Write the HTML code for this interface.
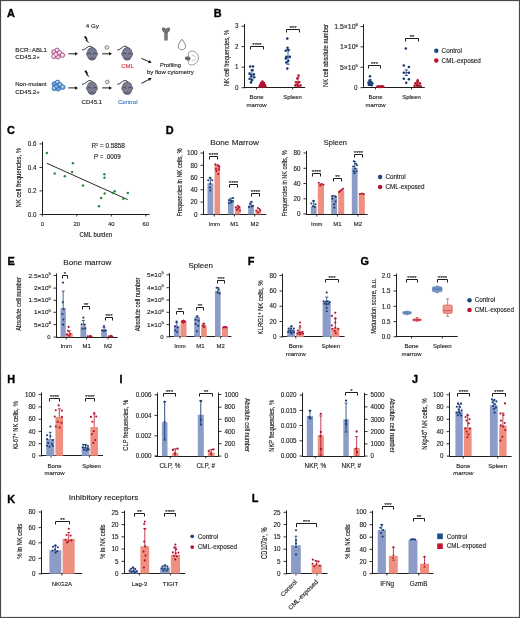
<!DOCTYPE html><html><head><meta charset="utf-8"><style>html,body{margin:0;padding:0;background:#fff;width:520px;height:618px;overflow:hidden}svg{display:block;will-change:transform}text{font-family:"Liberation Sans",sans-serif}</style></head><body><svg width="520" height="618" viewBox="0 0 520 618" font-family='"Liberation Sans", sans-serif' fill="#1a1a1a">
<rect x="0" y="0" width="520" height="618" fill="#fff"/>
<text x="7.00" y="16.60" font-size="10.9" fill="#000" font-weight="bold" stroke="#000" stroke-width="0.35">A</text>
<text x="15.30" y="51.90" font-size="6.2" textLength="31.60" lengthAdjust="spacingAndGlyphs" stroke="#1a1a1a" stroke-width="0.12">BCR::ABL1</text>
<text x="15.30" y="59.40" font-size="6.2" textLength="24.60" lengthAdjust="spacingAndGlyphs" stroke="#1a1a1a" stroke-width="0.12">CD45.2+</text>
<text x="15.30" y="86.20" font-size="6.2" textLength="31.20" lengthAdjust="spacingAndGlyphs" stroke="#1a1a1a" stroke-width="0.12">Non-mutant</text>
<text x="15.30" y="93.80" font-size="6.2" textLength="24.60" lengthAdjust="spacingAndGlyphs" stroke="#1a1a1a" stroke-width="0.12">CD45.2+</text>
<circle cx="57.10" cy="50.40" r="2.25" fill="#ecd0e2" stroke="#9c2a6a" stroke-width="0.75"/>
<circle cx="53.90" cy="52.00" r="2.25" fill="#ecd0e2" stroke="#9c2a6a" stroke-width="0.75"/>
<circle cx="59.60" cy="52.90" r="2.25" fill="#ecd0e2" stroke="#9c2a6a" stroke-width="0.75"/>
<circle cx="62.40" cy="55.20" r="2.25" fill="#ecd0e2" stroke="#9c2a6a" stroke-width="0.75"/>
<circle cx="53.90" cy="56.40" r="2.25" fill="#ecd0e2" stroke="#9c2a6a" stroke-width="0.75"/>
<circle cx="57.90" cy="56.80" r="2.25" fill="#ecd0e2" stroke="#9c2a6a" stroke-width="0.75"/>
<circle cx="55.90" cy="54.20" r="2.25" fill="#ecd0e2" stroke="#9c2a6a" stroke-width="0.75"/>
<circle cx="56.70" cy="49.90" r="0.9" fill="#ffffff"/>
<circle cx="59.20" cy="52.40" r="0.9" fill="#ffffff"/>
<circle cx="62.00" cy="54.70" r="0.9" fill="#ffffff"/>
<circle cx="53.50" cy="55.90" r="0.9" fill="#ffffff"/>
<circle cx="57.50" cy="82.40" r="2.25" fill="#74a8dd" stroke="#1f5ea8" stroke-width="0.75"/>
<circle cx="54.30" cy="84.00" r="2.25" fill="#74a8dd" stroke="#1f5ea8" stroke-width="0.75"/>
<circle cx="60.00" cy="84.90" r="2.25" fill="#74a8dd" stroke="#1f5ea8" stroke-width="0.75"/>
<circle cx="62.80" cy="87.20" r="2.25" fill="#74a8dd" stroke="#1f5ea8" stroke-width="0.75"/>
<circle cx="54.30" cy="88.40" r="2.25" fill="#74a8dd" stroke="#1f5ea8" stroke-width="0.75"/>
<circle cx="58.30" cy="88.80" r="2.25" fill="#74a8dd" stroke="#1f5ea8" stroke-width="0.75"/>
<circle cx="56.30" cy="86.20" r="2.25" fill="#74a8dd" stroke="#1f5ea8" stroke-width="0.75"/>
<circle cx="57.10" cy="81.90" r="0.9" fill="#dbe9f7"/>
<circle cx="59.60" cy="84.40" r="0.9" fill="#dbe9f7"/>
<circle cx="62.40" cy="86.70" r="0.9" fill="#dbe9f7"/>
<circle cx="53.90" cy="87.90" r="0.9" fill="#dbe9f7"/>
<line x1="68.30" y1="53.80" x2="75.00" y2="53.80" stroke="#111" stroke-width="0.95"/>
<path d="M78.00 53.80L75.00 55.55L75.00 52.05Z" fill="#111"/>
<line x1="68.30" y1="87.90" x2="75.00" y2="87.90" stroke="#111" stroke-width="0.95"/>
<path d="M78.00 87.90L75.00 89.65L75.00 86.15Z" fill="#111"/>
<line x1="102.20" y1="53.80" x2="109.00" y2="53.80" stroke="#111" stroke-width="0.95"/>
<path d="M112.00 53.80L109.00 55.55L109.00 52.05Z" fill="#111"/>
<line x1="102.20" y1="87.90" x2="109.00" y2="87.90" stroke="#111" stroke-width="0.95"/>
<path d="M112.00 87.90L109.00 89.65L109.00 86.15Z" fill="#111"/>
<line x1="141.40" y1="58.40" x2="148.85" y2="61.61" stroke="#111" stroke-width="0.95"/>
<path d="M151.60 62.80L148.15 63.22L149.54 60.00Z" fill="#111"/>
<line x1="141.40" y1="83.40" x2="148.94" y2="79.48" stroke="#111" stroke-width="0.95"/>
<path d="M151.60 78.10L149.74 81.04L148.13 77.93Z" fill="#111"/>
<path d="M92.00 47.60C94.60 47.60 96.20 49.30 96.60 51.90C97.60 52.70 98.00 55.30 96.40 56.10C96.00 58.10 95.00 60.20 92.00 60.20C89.00 60.20 88.00 58.10 87.60 56.10C86.00 55.30 86.40 52.70 87.40 51.90C87.80 49.30 89.40 47.60 92.00 47.60Z" fill="#7a7e90" stroke="#34364a" stroke-width="0.6"/>
<path d="M87.60 53.70Q89.40 52.40 91.00 53.90M96.40 53.70Q94.60 52.40 93.00 53.90" fill="none" stroke="#34364a" stroke-width="0.7"/>
<path d="M89.60 58.80Q92.00 57.50 94.40 58.80" fill="none" stroke="#34364a" stroke-width="0.6"/>
<path d="M92.60 47.70C91.80 45.90 89.00 45.70 87.20 47.30S84.00 49.90 82.00 49.90" fill="none" stroke="#2a2a30" stroke-width="0.95"/>
<path d="M127.20 47.60C129.80 47.60 131.40 49.30 131.80 51.90C132.80 52.70 133.20 55.30 131.60 56.10C131.20 58.10 130.20 60.20 127.20 60.20C124.20 60.20 123.20 58.10 122.80 56.10C121.20 55.30 121.60 52.70 122.60 51.90C123.00 49.30 124.60 47.60 127.20 47.60Z" fill="#7a7e90" stroke="#34364a" stroke-width="0.6"/>
<path d="M122.80 53.70Q124.60 52.40 126.20 53.90M131.60 53.70Q129.80 52.40 128.20 53.90" fill="none" stroke="#34364a" stroke-width="0.7"/>
<path d="M124.80 58.80Q127.20 57.50 129.60 58.80" fill="none" stroke="#34364a" stroke-width="0.6"/>
<path d="M127.80 47.70C127.00 45.90 124.20 45.70 122.40 47.30S119.20 49.90 117.20 49.90" fill="none" stroke="#2a2a30" stroke-width="0.95"/>
<path d="M92.00 81.90C94.60 81.90 96.20 83.60 96.60 86.20C97.60 87.00 98.00 89.60 96.40 90.40C96.00 92.40 95.00 94.50 92.00 94.50C89.00 94.50 88.00 92.40 87.60 90.40C86.00 89.60 86.40 87.00 87.40 86.20C87.80 83.60 89.40 81.90 92.00 81.90Z" fill="#7a7e90" stroke="#34364a" stroke-width="0.6"/>
<path d="M87.60 88.00Q89.40 86.70 91.00 88.20M96.40 88.00Q94.60 86.70 93.00 88.20" fill="none" stroke="#34364a" stroke-width="0.7"/>
<path d="M89.60 93.10Q92.00 91.80 94.40 93.10" fill="none" stroke="#34364a" stroke-width="0.6"/>
<path d="M92.60 82.00C91.80 80.20 89.00 80.00 87.20 81.60S84.00 84.20 82.00 84.20" fill="none" stroke="#2a2a30" stroke-width="0.95"/>
<path d="M127.20 81.90C129.80 81.90 131.40 83.60 131.80 86.20C132.80 87.00 133.20 89.60 131.60 90.40C131.20 92.40 130.20 94.50 127.20 94.50C124.20 94.50 123.20 92.40 122.80 90.40C121.20 89.60 121.60 87.00 122.60 86.20C123.00 83.60 124.60 81.90 127.20 81.90Z" fill="#7a7e90" stroke="#34364a" stroke-width="0.6"/>
<path d="M122.80 88.00Q124.60 86.70 126.20 88.20M131.60 88.00Q129.80 86.70 128.20 88.20" fill="none" stroke="#34364a" stroke-width="0.7"/>
<path d="M124.80 93.10Q127.20 91.80 129.60 93.10" fill="none" stroke="#34364a" stroke-width="0.6"/>
<path d="M127.80 82.00C127.00 80.20 124.20 80.00 122.40 81.60S119.20 84.20 117.20 84.20" fill="none" stroke="#2a2a30" stroke-width="0.95"/>
<path d="M83.90 36.80L85.80 35.90L87.70 39.30L86.90 39.70L89.50 43.20L85.50 40.50L86.30 40.10Z" fill="#111"/>
<path d="M84.30 71.10L86.20 70.20L88.10 73.60L87.30 74.00L89.90 77.50L85.90 74.80L86.70 74.40Z" fill="#111"/>
<circle cx="106.80" cy="47.40" r="1.85" fill="none" stroke="#333" stroke-width="0.6"/>
<circle cx="106.80" cy="47.40" r="0.45" fill="#333"/>
<circle cx="107.30" cy="82.00" r="1.85" fill="none" stroke="#333" stroke-width="0.6"/>
<circle cx="107.30" cy="82.00" r="0.45" fill="#333"/>
<text x="85.80" y="28.30" font-size="6.2" textLength="13.00" lengthAdjust="spacingAndGlyphs" stroke="#1a1a1a" stroke-width="0.12">4 Gy</text>
<text x="121.20" y="68.30" font-size="6.2" fill="#d9303c" textLength="12.60" lengthAdjust="spacingAndGlyphs" stroke="#d9303c" stroke-width="0.12">CML</text>
<text x="81.60" y="103.70" font-size="6.2" textLength="20.40" lengthAdjust="spacingAndGlyphs" stroke="#1a1a1a" stroke-width="0.12">CD45.1</text>
<text x="117.90" y="103.70" font-size="6.2" fill="#3b74b6" textLength="19.60" lengthAdjust="spacingAndGlyphs" stroke="#3b74b6" stroke-width="0.12">Control</text>
<text x="160.00" y="66.60" font-size="6.1" textLength="21.00" lengthAdjust="spacingAndGlyphs" stroke="#1a1a1a" stroke-width="0.12">Profiling</text>
<text x="147.00" y="74.20" font-size="6.1" textLength="46.80" lengthAdjust="spacingAndGlyphs" stroke="#1a1a1a" stroke-width="0.12">by flow cytometry</text>
<path d="M161.9 29.2C161.4 27.0 164.6 26.8 165.6 28.6L166.0 29.3L166.4 28.6C167.4 26.8 170.6 27.0 170.1 29.2C169.8 30.9 168.6 32.2 167.7 32.8L167.7 40.6L164.3 40.6L164.3 32.8C163.4 32.2 162.2 30.9 161.9 29.2Z" fill="#6a6a6a"/>
<path d="M163.4 28.8L165.3 31.3M168.6 28.8L166.7 31.3M166.0 33.0V39.8" fill="none" stroke="#a9a9a9" stroke-width="0.45"/>
<path d="M181.9 39.2C180.4 41.6 178.3 43.6 178.3 46.3C178.3 48.4 179.9 49.8 181.9 49.8C183.9 49.8 185.5 48.4 185.5 46.3C185.5 43.6 183.4 41.6 181.9 39.2Z" fill="#fff" stroke="#555" stroke-width="0.7"/>
<path d="M190.8 51.2C194.8 50.6 198.6 53.6 198.4 58.0C198.2 62.4 194.6 65.3 190.8 64.9C188.6 64.7 187.6 62.8 188.6 61.4C186.6 60.8 186.4 56.6 188.6 56.0C187.6 53.8 188.6 51.5 190.8 51.2Z" fill="#fff" stroke="#666" stroke-width="0.65"/>
<path d="M192.2 55.2Q195.2 55.6 195.8 57.6M192.2 60.8Q195.2 60.6 195.8 58.6" fill="none" stroke="#888" stroke-width="0.5"/>
<path d="M184.8 58.0C185.0 56.6 187.2 56.2 189.6 56.8L190.6 58.6L189.6 60.4C187.4 60.8 184.6 60.0 184.8 58.0Z" fill="#666"/>
<text x="213.80" y="16.60" font-size="10.9" fill="#000" font-weight="bold" stroke="#000" stroke-width="0.35">B</text>
<line x1="244.50" y1="23.90" x2="244.50" y2="88.20" stroke="#1e1e1e" stroke-width="1.0"/>
<line x1="241.50" y1="87.70" x2="244.50" y2="87.70" stroke="#1e1e1e" stroke-width="0.9"/>
<text x="238.60" y="89.91" font-size="6.3" text-anchor="end" stroke="#1a1a1a" stroke-width="0.12">0</text>
<line x1="241.50" y1="67.20" x2="244.50" y2="67.20" stroke="#1e1e1e" stroke-width="0.9"/>
<text x="238.60" y="69.41" font-size="6.3" text-anchor="end" stroke="#1a1a1a" stroke-width="0.12">1</text>
<line x1="241.50" y1="46.60" x2="244.50" y2="46.60" stroke="#1e1e1e" stroke-width="0.9"/>
<text x="238.60" y="48.80" font-size="6.3" text-anchor="end" stroke="#1a1a1a" stroke-width="0.12">2</text>
<line x1="241.50" y1="26.20" x2="244.50" y2="26.20" stroke="#1e1e1e" stroke-width="0.9"/>
<text x="238.60" y="28.40" font-size="6.3" text-anchor="end" stroke="#1a1a1a" stroke-width="0.12">3</text>
<line x1="244.00" y1="87.50" x2="305.20" y2="87.50" stroke="#1e1e1e" stroke-width="1.0"/>
<line x1="256.60" y1="87.50" x2="256.60" y2="89.50" stroke="#1e1e1e" stroke-width="0.9"/>
<line x1="292.60" y1="87.50" x2="292.60" y2="89.50" stroke="#1e1e1e" stroke-width="0.9"/>
<text x="228.90" y="58.00" font-size="7.6" text-anchor="middle" textLength="56.20" lengthAdjust="spacingAndGlyphs" transform="rotate(-90 228.90 58.00)" stroke="#1a1a1a" stroke-width="0.15">NK cell frequencies, %</text>
<line x1="248.80" y1="74.60" x2="254.80" y2="74.60" stroke="#163a72" stroke-width="0.8"/>
<line x1="251.80" y1="69.80" x2="251.80" y2="79.40" stroke="#163a72" stroke-width="0.8"/>
<line x1="250.15" y1="69.80" x2="253.45" y2="69.80" stroke="#163a72" stroke-width="0.8"/>
<line x1="250.15" y1="79.40" x2="253.45" y2="79.40" stroke="#163a72" stroke-width="0.8"/>
<circle cx="250.20" cy="66.50" r="1.28" fill="#163a72"/>
<circle cx="253.00" cy="66.50" r="1.28" fill="#163a72"/>
<circle cx="252.40" cy="70.30" r="1.28" fill="#163a72"/>
<circle cx="249.60" cy="73.60" r="1.28" fill="#163a72"/>
<circle cx="253.90" cy="74.40" r="1.28" fill="#163a72"/>
<circle cx="251.20" cy="76.20" r="1.28" fill="#163a72"/>
<circle cx="254.20" cy="77.30" r="1.28" fill="#163a72"/>
<circle cx="249.60" cy="78.70" r="1.28" fill="#163a72"/>
<circle cx="252.00" cy="80.30" r="1.28" fill="#163a72"/>
<circle cx="251.00" cy="82.40" r="1.28" fill="#163a72"/>
<line x1="260.20" y1="85.00" x2="265.40" y2="85.00" stroke="#b0122e" stroke-width="0.8"/>
<line x1="262.80" y1="82.60" x2="262.80" y2="87.20" stroke="#b0122e" stroke-width="0.8"/>
<line x1="261.37" y1="82.60" x2="264.23" y2="82.60" stroke="#b0122e" stroke-width="0.8"/>
<line x1="261.37" y1="87.20" x2="264.23" y2="87.20" stroke="#b0122e" stroke-width="0.8"/>
<circle cx="262.50" cy="81.60" r="1.28" fill="#b0122e"/>
<circle cx="261.00" cy="83.00" r="1.28" fill="#b0122e"/>
<circle cx="264.00" cy="83.00" r="1.28" fill="#b0122e"/>
<circle cx="262.60" cy="84.20" r="1.28" fill="#b0122e"/>
<circle cx="260.00" cy="85.00" r="1.28" fill="#b0122e"/>
<circle cx="265.00" cy="85.00" r="1.28" fill="#b0122e"/>
<circle cx="261.80" cy="86.00" r="1.28" fill="#b0122e"/>
<circle cx="263.60" cy="86.00" r="1.28" fill="#b0122e"/>
<circle cx="259.60" cy="86.80" r="1.28" fill="#b0122e"/>
<circle cx="265.60" cy="86.80" r="1.28" fill="#b0122e"/>
<circle cx="262.70" cy="86.90" r="1.28" fill="#b0122e"/>
<line x1="285.00" y1="56.90" x2="291.00" y2="56.90" stroke="#163a72" stroke-width="0.8"/>
<line x1="288.00" y1="49.50" x2="288.00" y2="64.30" stroke="#163a72" stroke-width="0.8"/>
<line x1="286.35" y1="49.50" x2="289.65" y2="49.50" stroke="#163a72" stroke-width="0.8"/>
<line x1="286.35" y1="64.30" x2="289.65" y2="64.30" stroke="#163a72" stroke-width="0.8"/>
<circle cx="287.30" cy="38.60" r="1.28" fill="#163a72"/>
<circle cx="287.50" cy="47.70" r="1.28" fill="#163a72"/>
<circle cx="285.70" cy="50.80" r="1.28" fill="#163a72"/>
<circle cx="288.60" cy="50.10" r="1.28" fill="#163a72"/>
<circle cx="286.40" cy="56.90" r="1.28" fill="#163a72"/>
<circle cx="289.80" cy="56.90" r="1.28" fill="#163a72"/>
<circle cx="285.80" cy="58.60" r="1.28" fill="#163a72"/>
<circle cx="288.30" cy="60.80" r="1.28" fill="#163a72"/>
<circle cx="286.40" cy="62.40" r="1.28" fill="#163a72"/>
<circle cx="287.30" cy="68.60" r="1.28" fill="#163a72"/>
<line x1="295.40" y1="82.20" x2="300.60" y2="82.20" stroke="#b0122e" stroke-width="0.8"/>
<line x1="298.00" y1="77.80" x2="298.00" y2="86.50" stroke="#b0122e" stroke-width="0.8"/>
<line x1="296.57" y1="77.80" x2="299.43" y2="77.80" stroke="#b0122e" stroke-width="0.8"/>
<line x1="296.57" y1="86.50" x2="299.43" y2="86.50" stroke="#b0122e" stroke-width="0.8"/>
<circle cx="298.50" cy="75.60" r="1.28" fill="#b0122e"/>
<circle cx="297.30" cy="78.50" r="1.28" fill="#b0122e"/>
<circle cx="296.00" cy="82.20" r="1.28" fill="#b0122e"/>
<circle cx="299.00" cy="82.20" r="1.28" fill="#b0122e"/>
<circle cx="297.30" cy="84.60" r="1.28" fill="#b0122e"/>
<circle cx="300.50" cy="85.40" r="1.28" fill="#b0122e"/>
<circle cx="295.40" cy="85.40" r="1.28" fill="#b0122e"/>
<circle cx="298.20" cy="86.60" r="1.28" fill="#b0122e"/>
<path d="M250.50 49.50V46.50H263.50V49.50" fill="none" stroke="#1e1e1e" stroke-width="1.0"/>
<text x="257.00" y="46.64" font-size="6.0" text-anchor="middle" fill="#111" stroke="#111" stroke-width="0.1">****</text>
<path d="M286.50 32.50V29.50H299.50V32.50" fill="none" stroke="#1e1e1e" stroke-width="1.0"/>
<text x="293.00" y="29.64" font-size="6.0" text-anchor="middle" fill="#111" stroke="#111" stroke-width="0.1">***</text>
<text x="256.60" y="99.10" font-size="6.0" text-anchor="middle" stroke="#1a1a1a" stroke-width="0.12">Bone</text>
<text x="256.60" y="106.80" font-size="6.0" text-anchor="middle" stroke="#1a1a1a" stroke-width="0.12">marrow</text>
<text x="292.60" y="99.10" font-size="6.0" text-anchor="middle" stroke="#1a1a1a" stroke-width="0.12">Spleen</text>
<line x1="363.50" y1="24.20" x2="363.50" y2="88.10" stroke="#1e1e1e" stroke-width="1.0"/>
<line x1="360.50" y1="87.60" x2="363.50" y2="87.60" stroke="#1e1e1e" stroke-width="0.9"/>
<text x="357.60" y="89.80" font-size="6.3" text-anchor="end" stroke="#1a1a1a" stroke-width="0.12">0</text>
<line x1="360.50" y1="67.30" x2="363.50" y2="67.30" stroke="#1e1e1e" stroke-width="0.9"/>
<text x="358.00" y="69.50" font-size="6.3" text-anchor="end" textLength="18.06" lengthAdjust="spacingAndGlyphs" stroke="#1a1a1a" stroke-width="0.12">5×10<tspan font-size="4.0" dy="-2.5">5</tspan></text>
<line x1="360.50" y1="46.80" x2="363.50" y2="46.80" stroke="#1e1e1e" stroke-width="0.9"/>
<text x="358.00" y="49.00" font-size="6.3" text-anchor="end" textLength="18.06" lengthAdjust="spacingAndGlyphs" stroke="#1a1a1a" stroke-width="0.12">1×10<tspan font-size="4.0" dy="-2.5">6</tspan></text>
<line x1="360.50" y1="26.50" x2="363.50" y2="26.50" stroke="#1e1e1e" stroke-width="0.9"/>
<text x="358.00" y="28.70" font-size="6.3" text-anchor="end" textLength="23.83" lengthAdjust="spacingAndGlyphs" stroke="#1a1a1a" stroke-width="0.12">1.5×10<tspan font-size="4.0" dy="-2.5">6</tspan></text>
<line x1="363.00" y1="87.50" x2="424.80" y2="87.50" stroke="#1e1e1e" stroke-width="1.0"/>
<line x1="375.40" y1="87.50" x2="375.40" y2="89.50" stroke="#1e1e1e" stroke-width="0.9"/>
<line x1="411.50" y1="87.50" x2="411.50" y2="89.50" stroke="#1e1e1e" stroke-width="0.9"/>
<text x="327.90" y="55.45" font-size="7.6" text-anchor="middle" textLength="63.00" lengthAdjust="spacingAndGlyphs" transform="rotate(-90 327.90 55.45)" stroke="#1a1a1a" stroke-width="0.15">NK cell absolute number</text>
<line x1="367.60" y1="82.40" x2="372.80" y2="82.40" stroke="#163a72" stroke-width="0.8"/>
<line x1="370.20" y1="79.40" x2="370.20" y2="85.40" stroke="#163a72" stroke-width="0.8"/>
<line x1="368.77" y1="79.40" x2="371.63" y2="79.40" stroke="#163a72" stroke-width="0.8"/>
<line x1="368.77" y1="85.40" x2="371.63" y2="85.40" stroke="#163a72" stroke-width="0.8"/>
<circle cx="370.00" cy="76.20" r="1.28" fill="#163a72"/>
<circle cx="369.50" cy="80.80" r="1.28" fill="#163a72"/>
<circle cx="371.20" cy="81.90" r="1.28" fill="#163a72"/>
<circle cx="368.50" cy="82.70" r="1.28" fill="#163a72"/>
<circle cx="372.40" cy="83.50" r="1.28" fill="#163a72"/>
<circle cx="370.00" cy="84.20" r="1.28" fill="#163a72"/>
<circle cx="368.80" cy="84.80" r="1.28" fill="#163a72"/>
<circle cx="371.60" cy="85.30" r="1.28" fill="#163a72"/>
<circle cx="377.50" cy="86.60" r="1.28" fill="#b0122e"/>
<circle cx="379.50" cy="86.40" r="1.28" fill="#b0122e"/>
<circle cx="381.50" cy="86.60" r="1.28" fill="#b0122e"/>
<circle cx="383.30" cy="86.80" r="1.28" fill="#b0122e"/>
<circle cx="378.60" cy="87.00" r="1.28" fill="#b0122e"/>
<circle cx="380.70" cy="87.00" r="1.28" fill="#b0122e"/>
<circle cx="382.40" cy="86.20" r="1.28" fill="#b0122e"/>
<line x1="376.50" y1="86.80" x2="384.00" y2="86.80" stroke="#b0122e" stroke-width="0.8"/>
<line x1="403.10" y1="72.70" x2="409.50" y2="72.70" stroke="#163a72" stroke-width="0.8"/>
<line x1="406.30" y1="69.90" x2="406.30" y2="75.50" stroke="#163a72" stroke-width="0.8"/>
<line x1="404.54" y1="69.90" x2="408.06" y2="69.90" stroke="#163a72" stroke-width="0.8"/>
<line x1="404.54" y1="75.50" x2="408.06" y2="75.50" stroke="#163a72" stroke-width="0.8"/>
<circle cx="405.80" cy="48.50" r="1.28" fill="#163a72"/>
<circle cx="403.80" cy="65.50" r="1.28" fill="#163a72"/>
<circle cx="408.90" cy="67.00" r="1.28" fill="#163a72"/>
<circle cx="403.80" cy="72.70" r="1.28" fill="#163a72"/>
<circle cx="408.90" cy="72.70" r="1.28" fill="#163a72"/>
<circle cx="403.80" cy="78.80" r="1.28" fill="#163a72"/>
<circle cx="408.90" cy="79.30" r="1.28" fill="#163a72"/>
<circle cx="406.20" cy="82.70" r="1.28" fill="#163a72"/>
<line x1="414.80" y1="84.00" x2="420.00" y2="84.00" stroke="#b0122e" stroke-width="0.8"/>
<line x1="417.40" y1="81.50" x2="417.40" y2="86.50" stroke="#b0122e" stroke-width="0.8"/>
<line x1="415.97" y1="81.50" x2="418.83" y2="81.50" stroke="#b0122e" stroke-width="0.8"/>
<line x1="415.97" y1="86.50" x2="418.83" y2="86.50" stroke="#b0122e" stroke-width="0.8"/>
<circle cx="417.70" cy="80.40" r="1.28" fill="#b0122e"/>
<circle cx="415.40" cy="83.40" r="1.28" fill="#b0122e"/>
<circle cx="420.00" cy="83.40" r="1.28" fill="#b0122e"/>
<circle cx="416.90" cy="85.00" r="1.28" fill="#b0122e"/>
<circle cx="418.60" cy="85.80" r="1.28" fill="#b0122e"/>
<circle cx="414.60" cy="86.00" r="1.28" fill="#b0122e"/>
<circle cx="420.60" cy="86.20" r="1.28" fill="#b0122e"/>
<circle cx="417.60" cy="82.00" r="1.28" fill="#b0122e"/>
<path d="M368.50 68.50V65.50H380.50V68.50" fill="none" stroke="#1e1e1e" stroke-width="1.0"/>
<text x="374.50" y="65.64" font-size="6.0" text-anchor="middle" fill="#111" stroke="#111" stroke-width="0.1">***</text>
<path d="M405.50 41.50V38.50H418.50V41.50" fill="none" stroke="#1e1e1e" stroke-width="1.0"/>
<text x="412.00" y="38.64" font-size="6.0" text-anchor="middle" fill="#111" stroke="#111" stroke-width="0.1">**</text>
<text x="375.60" y="99.40" font-size="6.0" text-anchor="middle" stroke="#1a1a1a" stroke-width="0.12">Bone</text>
<text x="375.60" y="107.00" font-size="6.0" text-anchor="middle" stroke="#1a1a1a" stroke-width="0.12">marrow</text>
<text x="411.50" y="99.40" font-size="6.0" text-anchor="middle" stroke="#1a1a1a" stroke-width="0.12">Spleen</text>
<circle cx="436.30" cy="50.70" r="2.25" fill="#1c4a80"/>
<circle cx="436.30" cy="60.60" r="2.25" fill="#b8142e"/>
<text x="441.60" y="52.97" font-size="6.3" stroke="#1a1a1a" stroke-width="0.12">Control</text>
<text x="441.60" y="62.87" font-size="6.3" stroke="#1a1a1a" stroke-width="0.12">CML-exposed</text>
<text x="6.90" y="133.80" font-size="10.9" fill="#000" font-weight="bold" stroke="#000" stroke-width="0.35">C</text>
<line x1="42.50" y1="141.60" x2="42.50" y2="214.90" stroke="#1e1e1e" stroke-width="1.0"/>
<line x1="39.50" y1="214.40" x2="42.50" y2="214.40" stroke="#1e1e1e" stroke-width="0.9"/>
<text x="36.60" y="216.61" font-size="6.3" text-anchor="end" stroke="#1a1a1a" stroke-width="0.12">0.0</text>
<line x1="39.50" y1="190.90" x2="42.50" y2="190.90" stroke="#1e1e1e" stroke-width="0.9"/>
<text x="36.60" y="193.11" font-size="6.3" text-anchor="end" stroke="#1a1a1a" stroke-width="0.12">0.2</text>
<line x1="39.50" y1="167.40" x2="42.50" y2="167.40" stroke="#1e1e1e" stroke-width="0.9"/>
<text x="36.60" y="169.61" font-size="6.3" text-anchor="end" stroke="#1a1a1a" stroke-width="0.12">0.4</text>
<line x1="39.50" y1="143.90" x2="42.50" y2="143.90" stroke="#1e1e1e" stroke-width="0.9"/>
<text x="36.60" y="146.11" font-size="6.3" text-anchor="end" stroke="#1a1a1a" stroke-width="0.12">0.6</text>
<line x1="42.00" y1="214.50" x2="149.60" y2="214.50" stroke="#1e1e1e" stroke-width="1.0"/>
<line x1="42.30" y1="214.50" x2="42.30" y2="216.50" stroke="#1e1e1e" stroke-width="0.9"/>
<line x1="76.80" y1="214.50" x2="76.80" y2="216.50" stroke="#1e1e1e" stroke-width="0.9"/>
<line x1="111.30" y1="214.50" x2="111.30" y2="216.50" stroke="#1e1e1e" stroke-width="0.9"/>
<line x1="145.80" y1="214.50" x2="145.80" y2="216.50" stroke="#1e1e1e" stroke-width="0.9"/>
<text x="42.30" y="225.90" font-size="5.8" text-anchor="middle" stroke="#1a1a1a" stroke-width="0.12">0</text>
<text x="76.80" y="225.90" font-size="5.8" text-anchor="middle" stroke="#1a1a1a" stroke-width="0.12">20</text>
<text x="111.30" y="225.90" font-size="5.8" text-anchor="middle" stroke="#1a1a1a" stroke-width="0.12">40</text>
<text x="145.80" y="225.90" font-size="5.8" text-anchor="middle" stroke="#1a1a1a" stroke-width="0.12">60</text>
<text x="21.20" y="177.70" font-size="7.6" text-anchor="middle" textLength="59.50" lengthAdjust="spacingAndGlyphs" transform="rotate(-90 21.20 177.70)" stroke="#1a1a1a" stroke-width="0.15">NK cell frequencies, %</text>
<text x="95.80" y="237.20" font-size="7.0" text-anchor="middle" textLength="32.40" lengthAdjust="spacingAndGlyphs" stroke="#1a1a1a" stroke-width="0.15">CML burden</text>
<line x1="46.90" y1="163.30" x2="127.70" y2="199.60" stroke="#1e1e1e" stroke-width="0.95"/>
<circle cx="46.90" cy="153.10" r="1.25" fill="#2f8c3b"/>
<circle cx="54.70" cy="173.60" r="1.25" fill="#2f8c3b"/>
<circle cx="64.80" cy="176.20" r="1.25" fill="#2f8c3b"/>
<circle cx="72.90" cy="163.20" r="1.25" fill="#2f8c3b"/>
<circle cx="72.10" cy="172.10" r="1.25" fill="#2f8c3b"/>
<circle cx="83.00" cy="185.40" r="1.25" fill="#2f8c3b"/>
<circle cx="98.90" cy="206.20" r="1.25" fill="#2f8c3b"/>
<circle cx="101.10" cy="197.90" r="1.25" fill="#2f8c3b"/>
<circle cx="104.30" cy="174.30" r="1.25" fill="#2f8c3b"/>
<circle cx="104.50" cy="177.80" r="1.25" fill="#2f8c3b"/>
<circle cx="104.70" cy="193.50" r="1.25" fill="#2f8c3b"/>
<circle cx="112.90" cy="193.10" r="1.25" fill="#2f8c3b"/>
<circle cx="114.70" cy="191.20" r="1.25" fill="#2f8c3b"/>
<circle cx="123.30" cy="198.70" r="1.25" fill="#2f8c3b"/>
<circle cx="127.80" cy="192.90" r="1.25" fill="#2f8c3b"/>
<text x="91.40" y="148.20" font-size="6.3" textLength="33.40" lengthAdjust="spacingAndGlyphs" stroke="#1a1a1a" stroke-width="0.12">R<tspan font-size="3.8" dy="-2.4">2</tspan><tspan dy="2.4"> = 0.5858</tspan></text>
<text x="93.80" y="158.80" font-size="6.3" textLength="27.00" lengthAdjust="spacingAndGlyphs" stroke="#1a1a1a" stroke-width="0.12"><tspan font-style="italic">P</tspan> = .0009</text>
<text x="165.80" y="133.80" font-size="10.9" fill="#000" font-weight="bold" stroke="#000" stroke-width="0.35">D</text>
<text x="234.60" y="145.10" font-size="8.0" text-anchor="middle" textLength="48.60" lengthAdjust="spacingAndGlyphs" stroke="#1a1a1a" stroke-width="0.12">Bone Marrow</text>
<line x1="203.50" y1="151.20" x2="203.50" y2="214.90" stroke="#1e1e1e" stroke-width="1.0"/>
<line x1="200.50" y1="214.40" x2="203.50" y2="214.40" stroke="#1e1e1e" stroke-width="0.9"/>
<text x="197.60" y="216.61" font-size="6.3" text-anchor="end" stroke="#1a1a1a" stroke-width="0.12">0</text>
<line x1="200.50" y1="202.10" x2="203.50" y2="202.10" stroke="#1e1e1e" stroke-width="0.9"/>
<text x="197.60" y="204.31" font-size="6.3" text-anchor="end" stroke="#1a1a1a" stroke-width="0.12">20</text>
<line x1="200.50" y1="189.80" x2="203.50" y2="189.80" stroke="#1e1e1e" stroke-width="0.9"/>
<text x="197.60" y="192.01" font-size="6.3" text-anchor="end" stroke="#1a1a1a" stroke-width="0.12">40</text>
<line x1="200.50" y1="177.50" x2="203.50" y2="177.50" stroke="#1e1e1e" stroke-width="0.9"/>
<text x="197.60" y="179.71" font-size="6.3" text-anchor="end" stroke="#1a1a1a" stroke-width="0.12">60</text>
<line x1="200.50" y1="165.30" x2="203.50" y2="165.30" stroke="#1e1e1e" stroke-width="0.9"/>
<text x="197.60" y="167.51" font-size="6.3" text-anchor="end" stroke="#1a1a1a" stroke-width="0.12">80</text>
<line x1="200.50" y1="153.00" x2="203.50" y2="153.00" stroke="#1e1e1e" stroke-width="0.9"/>
<text x="197.60" y="155.21" font-size="6.3" text-anchor="end" stroke="#1a1a1a" stroke-width="0.12">100</text>
<line x1="203.00" y1="214.50" x2="266.20" y2="214.50" stroke="#1e1e1e" stroke-width="1.0"/>
<line x1="214.30" y1="214.50" x2="214.30" y2="216.50" stroke="#1e1e1e" stroke-width="0.9"/>
<line x1="234.40" y1="214.50" x2="234.40" y2="216.50" stroke="#1e1e1e" stroke-width="0.9"/>
<line x1="254.60" y1="214.50" x2="254.60" y2="216.50" stroke="#1e1e1e" stroke-width="0.9"/>
<text x="182.00" y="182.50" font-size="7.6" text-anchor="middle" textLength="68.00" lengthAdjust="spacingAndGlyphs" transform="rotate(-90 182.00 182.50)" stroke="#1a1a1a" stroke-width="0.15">Frequencies in NK cells, %</text>
<text x="214.30" y="225.90" font-size="5.9" text-anchor="middle" stroke="#1a1a1a" stroke-width="0.12">Imm</text>
<text x="234.40" y="225.90" font-size="5.9" text-anchor="middle" stroke="#1a1a1a" stroke-width="0.12">M1</text>
<text x="254.60" y="225.90" font-size="5.9" text-anchor="middle" stroke="#1a1a1a" stroke-width="0.12">M2</text>
<rect x="207.50" y="183.40" width="5.80" height="31.00" fill="#8b9cc8"/>
<line x1="210.40" y1="183.40" x2="210.40" y2="178.20" stroke="#163a72" stroke-width="0.8"/>
<line x1="208.90" y1="178.20" x2="211.90" y2="178.20" stroke="#163a72" stroke-width="0.8"/>
<circle cx="210.00" cy="177.80" r="1.05" fill="#163a72"/>
<circle cx="208.20" cy="180.20" r="1.05" fill="#163a72"/>
<circle cx="212.20" cy="180.20" r="1.05" fill="#163a72"/>
<circle cx="210.30" cy="183.80" r="1.05" fill="#163a72"/>
<circle cx="209.80" cy="187.50" r="1.05" fill="#163a72"/>
<circle cx="210.30" cy="190.50" r="1.05" fill="#163a72"/>
<rect x="214.50" y="164.60" width="5.60" height="49.80" fill="#ee8f80"/>
<circle cx="215.40" cy="164.40" r="1.05" fill="#b0122e"/>
<circle cx="217.80" cy="165.40" r="1.05" fill="#b0122e"/>
<circle cx="219.30" cy="166.80" r="1.05" fill="#b0122e"/>
<circle cx="215.90" cy="168.70" r="1.05" fill="#b0122e"/>
<circle cx="219.00" cy="169.40" r="1.05" fill="#b0122e"/>
<circle cx="216.50" cy="171.10" r="1.05" fill="#b0122e"/>
<circle cx="218.20" cy="174.00" r="1.05" fill="#b0122e"/>
<rect x="228.00" y="200.00" width="5.70" height="14.40" fill="#8b9cc8"/>
<line x1="230.85" y1="200.00" x2="230.85" y2="198.20" stroke="#163a72" stroke-width="0.8"/>
<line x1="229.35" y1="198.20" x2="232.35" y2="198.20" stroke="#163a72" stroke-width="0.8"/>
<circle cx="233.00" cy="198.00" r="1.05" fill="#163a72"/>
<circle cx="228.90" cy="200.00" r="1.05" fill="#163a72"/>
<circle cx="231.00" cy="200.60" r="1.05" fill="#163a72"/>
<circle cx="232.90" cy="201.30" r="1.05" fill="#163a72"/>
<circle cx="228.90" cy="203.30" r="1.05" fill="#163a72"/>
<circle cx="231.20" cy="202.40" r="1.05" fill="#163a72"/>
<rect x="234.90" y="207.00" width="5.70" height="7.40" fill="#ee8f80"/>
<circle cx="237.70" cy="205.70" r="1.05" fill="#b0122e"/>
<circle cx="235.80" cy="207.30" r="1.05" fill="#b0122e"/>
<circle cx="239.30" cy="206.90" r="1.05" fill="#b0122e"/>
<circle cx="237.00" cy="209.70" r="1.05" fill="#b0122e"/>
<circle cx="240.00" cy="210.50" r="1.05" fill="#b0122e"/>
<circle cx="238.20" cy="208.20" r="1.05" fill="#b0122e"/>
<rect x="248.20" y="205.70" width="5.70" height="8.70" fill="#8b9cc8"/>
<line x1="251.05" y1="205.70" x2="251.05" y2="202.20" stroke="#163a72" stroke-width="0.8"/>
<line x1="249.55" y1="202.20" x2="252.55" y2="202.20" stroke="#163a72" stroke-width="0.8"/>
<circle cx="251.50" cy="201.70" r="1.05" fill="#163a72"/>
<circle cx="250.00" cy="204.00" r="1.05" fill="#163a72"/>
<circle cx="253.00" cy="205.70" r="1.05" fill="#163a72"/>
<circle cx="249.00" cy="206.90" r="1.05" fill="#163a72"/>
<circle cx="251.60" cy="206.40" r="1.05" fill="#163a72"/>
<rect x="255.50" y="210.50" width="5.70" height="3.90" fill="#ee8f80"/>
<circle cx="257.90" cy="208.10" r="1.05" fill="#b0122e"/>
<circle cx="256.30" cy="210.50" r="1.05" fill="#b0122e"/>
<circle cx="260.20" cy="210.50" r="1.05" fill="#b0122e"/>
<circle cx="258.00" cy="212.20" r="1.05" fill="#b0122e"/>
<circle cx="259.40" cy="209.00" r="1.05" fill="#b0122e"/>
<path d="M209.50 159.50V156.50H217.50V159.50" fill="none" stroke="#1e1e1e" stroke-width="1.0"/>
<text x="213.50" y="156.64" font-size="6.0" text-anchor="middle" fill="#111" stroke="#111" stroke-width="0.1">****</text>
<path d="M229.50 187.50V184.50H237.50V187.50" fill="none" stroke="#1e1e1e" stroke-width="1.0"/>
<text x="233.50" y="184.64" font-size="6.0" text-anchor="middle" fill="#111" stroke="#111" stroke-width="0.1">****</text>
<path d="M251.50 196.50V193.50H259.50V196.50" fill="none" stroke="#1e1e1e" stroke-width="1.0"/>
<text x="255.50" y="193.64" font-size="6.0" text-anchor="middle" fill="#111" stroke="#111" stroke-width="0.1">****</text>
<text x="335.40" y="145.40" font-size="8.0" text-anchor="middle" textLength="23.20" lengthAdjust="spacingAndGlyphs" stroke="#1a1a1a" stroke-width="0.12">Spleen</text>
<line x1="306.50" y1="151.00" x2="306.50" y2="214.50" stroke="#1e1e1e" stroke-width="1.0"/>
<line x1="303.50" y1="214.00" x2="306.50" y2="214.00" stroke="#1e1e1e" stroke-width="0.9"/>
<text x="300.60" y="216.21" font-size="6.3" text-anchor="end" stroke="#1a1a1a" stroke-width="0.12">0</text>
<line x1="303.50" y1="198.80" x2="306.50" y2="198.80" stroke="#1e1e1e" stroke-width="0.9"/>
<text x="300.60" y="201.01" font-size="6.3" text-anchor="end" stroke="#1a1a1a" stroke-width="0.12">20</text>
<line x1="303.50" y1="183.50" x2="306.50" y2="183.50" stroke="#1e1e1e" stroke-width="0.9"/>
<text x="300.60" y="185.71" font-size="6.3" text-anchor="end" stroke="#1a1a1a" stroke-width="0.12">40</text>
<line x1="303.50" y1="168.30" x2="306.50" y2="168.30" stroke="#1e1e1e" stroke-width="0.9"/>
<text x="300.60" y="170.51" font-size="6.3" text-anchor="end" stroke="#1a1a1a" stroke-width="0.12">60</text>
<line x1="303.50" y1="153.00" x2="306.50" y2="153.00" stroke="#1e1e1e" stroke-width="0.9"/>
<text x="300.60" y="155.21" font-size="6.3" text-anchor="end" stroke="#1a1a1a" stroke-width="0.12">80</text>
<line x1="306.00" y1="214.50" x2="367.60" y2="214.50" stroke="#1e1e1e" stroke-width="1.0"/>
<line x1="316.80" y1="214.50" x2="316.80" y2="216.50" stroke="#1e1e1e" stroke-width="0.9"/>
<line x1="337.40" y1="214.50" x2="337.40" y2="216.50" stroke="#1e1e1e" stroke-width="0.9"/>
<line x1="357.90" y1="214.50" x2="357.90" y2="216.50" stroke="#1e1e1e" stroke-width="0.9"/>
<text x="287.40" y="183.40" font-size="7.6" text-anchor="middle" textLength="66.20" lengthAdjust="spacingAndGlyphs" transform="rotate(-90 287.40 183.40)" stroke="#1a1a1a" stroke-width="0.15">Frequencies in NK cells, %</text>
<text x="316.80" y="225.90" font-size="5.9" text-anchor="middle" stroke="#1a1a1a" stroke-width="0.12">Imm</text>
<text x="337.40" y="225.90" font-size="5.9" text-anchor="middle" stroke="#1a1a1a" stroke-width="0.12">M1</text>
<text x="357.90" y="225.90" font-size="5.9" text-anchor="middle" stroke="#1a1a1a" stroke-width="0.12">M2</text>
<rect x="310.80" y="206.60" width="5.80" height="7.40" fill="#8b9cc8"/>
<line x1="313.70" y1="206.60" x2="313.70" y2="201.00" stroke="#163a72" stroke-width="0.8"/>
<line x1="312.20" y1="201.00" x2="315.20" y2="201.00" stroke="#163a72" stroke-width="0.8"/>
<circle cx="313.50" cy="200.90" r="1.05" fill="#163a72"/>
<circle cx="311.40" cy="203.50" r="1.05" fill="#163a72"/>
<circle cx="315.50" cy="204.20" r="1.05" fill="#163a72"/>
<circle cx="312.80" cy="206.20" r="1.05" fill="#163a72"/>
<circle cx="314.80" cy="206.90" r="1.05" fill="#163a72"/>
<rect x="317.80" y="183.60" width="6.20" height="30.40" fill="#ee8f80"/>
<circle cx="318.80" cy="182.70" r="1.05" fill="#b0122e"/>
<circle cx="321.50" cy="184.00" r="1.05" fill="#b0122e"/>
<circle cx="323.40" cy="184.70" r="1.05" fill="#b0122e"/>
<circle cx="320.20" cy="185.40" r="1.05" fill="#b0122e"/>
<rect x="331.20" y="196.40" width="5.80" height="17.60" fill="#8b9cc8"/>
<line x1="334.10" y1="196.40" x2="334.10" y2="195.60" stroke="#163a72" stroke-width="0.8"/>
<line x1="332.60" y1="195.60" x2="335.60" y2="195.60" stroke="#163a72" stroke-width="0.8"/>
<circle cx="332.30" cy="196.10" r="1.05" fill="#163a72"/>
<circle cx="335.70" cy="196.80" r="1.05" fill="#163a72"/>
<circle cx="332.30" cy="198.80" r="1.05" fill="#163a72"/>
<circle cx="335.70" cy="201.50" r="1.05" fill="#163a72"/>
<circle cx="334.30" cy="204.20" r="1.05" fill="#163a72"/>
<circle cx="334.30" cy="207.60" r="1.05" fill="#163a72"/>
<rect x="338.20" y="190.40" width="6.00" height="23.60" fill="#ee8f80"/>
<circle cx="343.00" cy="188.70" r="1.05" fill="#b0122e"/>
<circle cx="340.40" cy="190.80" r="1.05" fill="#b0122e"/>
<circle cx="339.20" cy="192.10" r="1.05" fill="#b0122e"/>
<circle cx="341.80" cy="190.00" r="1.05" fill="#b0122e"/>
<rect x="351.80" y="168.00" width="5.80" height="46.00" fill="#8b9cc8"/>
<line x1="354.70" y1="168.00" x2="354.70" y2="161.40" stroke="#163a72" stroke-width="0.8"/>
<line x1="353.20" y1="161.40" x2="356.20" y2="161.40" stroke="#163a72" stroke-width="0.8"/>
<circle cx="353.80" cy="161.20" r="1.05" fill="#163a72"/>
<circle cx="355.90" cy="163.80" r="1.05" fill="#163a72"/>
<circle cx="357.00" cy="165.20" r="1.05" fill="#163a72"/>
<circle cx="353.20" cy="166.50" r="1.05" fill="#163a72"/>
<circle cx="355.20" cy="168.60" r="1.05" fill="#163a72"/>
<circle cx="353.80" cy="171.20" r="1.05" fill="#163a72"/>
<circle cx="356.50" cy="171.20" r="1.05" fill="#163a72"/>
<circle cx="354.50" cy="173.30" r="1.05" fill="#163a72"/>
<rect x="358.80" y="193.60" width="6.00" height="20.40" fill="#ee8f80"/>
<circle cx="359.90" cy="194.10" r="1.05" fill="#b0122e"/>
<circle cx="361.90" cy="193.50" r="1.05" fill="#b0122e"/>
<circle cx="363.70" cy="194.10" r="1.05" fill="#b0122e"/>
<path d="M312.50 176.50V173.50H320.50V176.50" fill="none" stroke="#1e1e1e" stroke-width="1.0"/>
<text x="316.50" y="173.64" font-size="6.0" text-anchor="middle" fill="#111" stroke="#111" stroke-width="0.1">****</text>
<path d="M333.50 181.50V178.50H341.50V181.50" fill="none" stroke="#1e1e1e" stroke-width="1.0"/>
<text x="337.50" y="178.64" font-size="6.0" text-anchor="middle" fill="#111" stroke="#111" stroke-width="0.1">**</text>
<path d="M354.50 157.50V154.50H362.50V157.50" fill="none" stroke="#1e1e1e" stroke-width="1.0"/>
<text x="358.50" y="154.64" font-size="6.0" text-anchor="middle" fill="#111" stroke="#111" stroke-width="0.1">****</text>
<circle cx="380.10" cy="177.10" r="2.25" fill="#1c4a80"/>
<circle cx="380.10" cy="186.90" r="2.25" fill="#b8142e"/>
<text x="385.40" y="179.37" font-size="6.3" stroke="#1a1a1a" stroke-width="0.12">Control</text>
<text x="385.40" y="189.17" font-size="6.3" stroke="#1a1a1a" stroke-width="0.12">CML-exposed</text>
<text x="7.40" y="265.00" font-size="10.9" fill="#000" font-weight="bold" stroke="#000" stroke-width="0.35">E</text>
<text x="87.30" y="265.40" font-size="8.0" text-anchor="middle" textLength="48.00" lengthAdjust="spacingAndGlyphs" stroke="#1a1a1a" stroke-width="0.12">Bone marrow</text>
<line x1="56.50" y1="273.40" x2="56.50" y2="337.60" stroke="#1e1e1e" stroke-width="1.0"/>
<line x1="53.50" y1="337.10" x2="56.50" y2="337.10" stroke="#1e1e1e" stroke-width="0.9"/>
<text x="50.60" y="339.17" font-size="5.9" text-anchor="end" stroke="#1a1a1a" stroke-width="0.12">0</text>
<line x1="53.50" y1="324.60" x2="56.50" y2="324.60" stroke="#1e1e1e" stroke-width="0.9"/>
<text x="51.00" y="326.67" font-size="5.9" text-anchor="end" textLength="17.06" lengthAdjust="spacingAndGlyphs" stroke="#1a1a1a" stroke-width="0.12">5×10<tspan font-size="4.0" dy="-2.5">4</tspan></text>
<line x1="53.50" y1="312.30" x2="56.50" y2="312.30" stroke="#1e1e1e" stroke-width="0.9"/>
<text x="51.00" y="314.37" font-size="5.9" text-anchor="end" textLength="17.06" lengthAdjust="spacingAndGlyphs" stroke="#1a1a1a" stroke-width="0.12">1×10<tspan font-size="4.0" dy="-2.5">5</tspan></text>
<line x1="53.50" y1="300.30" x2="56.50" y2="300.30" stroke="#1e1e1e" stroke-width="0.9"/>
<text x="51.00" y="302.37" font-size="5.9" text-anchor="end" textLength="22.48" lengthAdjust="spacingAndGlyphs" stroke="#1a1a1a" stroke-width="0.12">1.5×10<tspan font-size="4.0" dy="-2.5">5</tspan></text>
<line x1="53.50" y1="288.10" x2="56.50" y2="288.10" stroke="#1e1e1e" stroke-width="0.9"/>
<text x="51.00" y="290.17" font-size="5.9" text-anchor="end" textLength="17.06" lengthAdjust="spacingAndGlyphs" stroke="#1a1a1a" stroke-width="0.12">2×10<tspan font-size="4.0" dy="-2.5">5</tspan></text>
<line x1="53.50" y1="275.50" x2="56.50" y2="275.50" stroke="#1e1e1e" stroke-width="0.9"/>
<text x="51.00" y="277.56" font-size="5.9" text-anchor="end" textLength="22.48" lengthAdjust="spacingAndGlyphs" stroke="#1a1a1a" stroke-width="0.12">2.5×10<tspan font-size="4.0" dy="-2.5">5</tspan></text>
<line x1="56.00" y1="337.50" x2="117.60" y2="337.50" stroke="#1e1e1e" stroke-width="1.0"/>
<line x1="66.20" y1="337.50" x2="66.20" y2="339.50" stroke="#1e1e1e" stroke-width="0.9"/>
<line x1="86.60" y1="337.50" x2="86.60" y2="339.50" stroke="#1e1e1e" stroke-width="0.9"/>
<line x1="108.10" y1="337.50" x2="108.10" y2="339.50" stroke="#1e1e1e" stroke-width="0.9"/>
<text x="20.60" y="304.00" font-size="7.6" text-anchor="middle" textLength="53.70" lengthAdjust="spacingAndGlyphs" transform="rotate(-90 20.60 304.00)" stroke="#1a1a1a" stroke-width="0.15">Absolute cell number</text>
<text x="66.20" y="348.30" font-size="5.9" text-anchor="middle" stroke="#1a1a1a" stroke-width="0.12">Imm</text>
<text x="86.60" y="348.30" font-size="5.9" text-anchor="middle" stroke="#1a1a1a" stroke-width="0.12">M1</text>
<text x="108.10" y="348.30" font-size="5.9" text-anchor="middle" stroke="#1a1a1a" stroke-width="0.12">M2</text>
<rect x="60.50" y="308.20" width="5.30" height="28.90" fill="#8b9cc8"/>
<line x1="63.15" y1="308.20" x2="63.15" y2="291.20" stroke="#163a72" stroke-width="0.8"/>
<line x1="61.65" y1="291.20" x2="64.65" y2="291.20" stroke="#163a72" stroke-width="0.8"/>
<circle cx="63.00" cy="282.60" r="1.05" fill="#163a72"/>
<circle cx="62.80" cy="302.30" r="1.05" fill="#163a72"/>
<circle cx="63.60" cy="309.00" r="1.05" fill="#163a72"/>
<circle cx="62.40" cy="314.00" r="1.05" fill="#163a72"/>
<circle cx="63.40" cy="319.60" r="1.05" fill="#163a72"/>
<circle cx="63.00" cy="324.60" r="1.05" fill="#163a72"/>
<rect x="66.20" y="333.20" width="6.50" height="3.90" fill="#ee8f80"/>
<line x1="69.45" y1="333.20" x2="69.45" y2="331.00" stroke="#b0122e" stroke-width="0.8"/>
<line x1="67.95" y1="331.00" x2="70.95" y2="331.00" stroke="#b0122e" stroke-width="0.8"/>
<circle cx="68.60" cy="326.90" r="1.05" fill="#b0122e"/>
<circle cx="68.00" cy="330.70" r="1.05" fill="#b0122e"/>
<circle cx="70.40" cy="333.80" r="1.05" fill="#b0122e"/>
<circle cx="67.00" cy="334.60" r="1.05" fill="#b0122e"/>
<circle cx="69.20" cy="335.80" r="1.05" fill="#b0122e"/>
<rect x="80.40" y="326.20" width="5.90" height="10.90" fill="#8b9cc8"/>
<line x1="83.35" y1="326.20" x2="83.35" y2="320.40" stroke="#163a72" stroke-width="0.8"/>
<line x1="81.85" y1="320.40" x2="84.85" y2="320.40" stroke="#163a72" stroke-width="0.8"/>
<circle cx="83.40" cy="317.60" r="1.05" fill="#163a72"/>
<circle cx="81.60" cy="324.40" r="1.05" fill="#163a72"/>
<circle cx="84.80" cy="324.60" r="1.05" fill="#163a72"/>
<circle cx="85.20" cy="328.40" r="1.05" fill="#163a72"/>
<circle cx="82.60" cy="328.80" r="1.05" fill="#163a72"/>
<rect x="86.60" y="336.40" width="6.40" height="0.70" fill="#ee8f80"/>
<circle cx="87.80" cy="336.40" r="1.05" fill="#b0122e"/>
<circle cx="89.60" cy="336.20" r="1.05" fill="#b0122e"/>
<circle cx="91.40" cy="336.60" r="1.05" fill="#b0122e"/>
<circle cx="90.40" cy="336.00" r="1.05" fill="#b0122e"/>
<rect x="101.20" y="330.00" width="5.70" height="7.10" fill="#8b9cc8"/>
<line x1="104.05" y1="330.00" x2="104.05" y2="327.60" stroke="#163a72" stroke-width="0.8"/>
<line x1="102.55" y1="327.60" x2="105.55" y2="327.60" stroke="#163a72" stroke-width="0.8"/>
<circle cx="104.00" cy="326.10" r="1.05" fill="#163a72"/>
<circle cx="102.20" cy="330.20" r="1.05" fill="#163a72"/>
<circle cx="105.60" cy="330.20" r="1.05" fill="#163a72"/>
<circle cx="104.00" cy="331.00" r="1.05" fill="#163a72"/>
<rect x="107.60" y="336.40" width="6.20" height="0.70" fill="#ee8f80"/>
<circle cx="108.80" cy="336.20" r="1.05" fill="#b0122e"/>
<circle cx="110.60" cy="336.20" r="1.05" fill="#b0122e"/>
<circle cx="112.20" cy="336.60" r="1.05" fill="#b0122e"/>
<circle cx="111.00" cy="335.80" r="1.05" fill="#b0122e"/>
<path d="M62.50 278.50V275.50H67.50V278.50" fill="none" stroke="#1e1e1e" stroke-width="1.0"/>
<text x="65.00" y="275.64" font-size="6.0" text-anchor="middle" fill="#111" stroke="#111" stroke-width="0.1">*</text>
<path d="M82.50 309.50V306.50H89.50V309.50" fill="none" stroke="#1e1e1e" stroke-width="1.0"/>
<text x="86.00" y="306.64" font-size="6.0" text-anchor="middle" fill="#111" stroke="#111" stroke-width="0.1">**</text>
<path d="M105.50 320.50V317.50H112.50V320.50" fill="none" stroke="#1e1e1e" stroke-width="1.0"/>
<text x="109.00" y="317.64" font-size="6.0" text-anchor="middle" fill="#111" stroke="#111" stroke-width="0.1">***</text>
<text x="200.70" y="267.80" font-size="8.0" text-anchor="middle" textLength="24.60" lengthAdjust="spacingAndGlyphs" stroke="#1a1a1a" stroke-width="0.12">Spleen</text>
<line x1="169.50" y1="273.20" x2="169.50" y2="337.30" stroke="#1e1e1e" stroke-width="1.0"/>
<line x1="166.50" y1="336.80" x2="169.50" y2="336.80" stroke="#1e1e1e" stroke-width="0.9"/>
<text x="163.60" y="338.87" font-size="5.9" text-anchor="end" stroke="#1a1a1a" stroke-width="0.12">0</text>
<line x1="166.50" y1="324.60" x2="169.50" y2="324.60" stroke="#1e1e1e" stroke-width="0.9"/>
<text x="164.00" y="326.67" font-size="5.9" text-anchor="end" textLength="17.06" lengthAdjust="spacingAndGlyphs" stroke="#1a1a1a" stroke-width="0.12">1×10<tspan font-size="4.0" dy="-2.5">5</tspan></text>
<line x1="166.50" y1="312.30" x2="169.50" y2="312.30" stroke="#1e1e1e" stroke-width="0.9"/>
<text x="164.00" y="314.37" font-size="5.9" text-anchor="end" textLength="17.06" lengthAdjust="spacingAndGlyphs" stroke="#1a1a1a" stroke-width="0.12">2×10<tspan font-size="4.0" dy="-2.5">5</tspan></text>
<line x1="166.50" y1="300.00" x2="169.50" y2="300.00" stroke="#1e1e1e" stroke-width="0.9"/>
<text x="164.00" y="302.06" font-size="5.9" text-anchor="end" textLength="17.06" lengthAdjust="spacingAndGlyphs" stroke="#1a1a1a" stroke-width="0.12">3×10<tspan font-size="4.0" dy="-2.5">5</tspan></text>
<line x1="166.50" y1="287.70" x2="169.50" y2="287.70" stroke="#1e1e1e" stroke-width="0.9"/>
<text x="164.00" y="289.76" font-size="5.9" text-anchor="end" textLength="17.06" lengthAdjust="spacingAndGlyphs" stroke="#1a1a1a" stroke-width="0.12">4×10<tspan font-size="4.0" dy="-2.5">5</tspan></text>
<line x1="166.50" y1="274.80" x2="169.50" y2="274.80" stroke="#1e1e1e" stroke-width="0.9"/>
<text x="164.00" y="276.87" font-size="5.9" text-anchor="end" textLength="17.06" lengthAdjust="spacingAndGlyphs" stroke="#1a1a1a" stroke-width="0.12">5×10<tspan font-size="4.0" dy="-2.5">5</tspan></text>
<line x1="169.00" y1="336.50" x2="231.40" y2="336.50" stroke="#1e1e1e" stroke-width="1.0"/>
<line x1="179.90" y1="336.50" x2="179.90" y2="338.50" stroke="#1e1e1e" stroke-width="0.9"/>
<line x1="200.40" y1="336.50" x2="200.40" y2="338.50" stroke="#1e1e1e" stroke-width="0.9"/>
<line x1="220.60" y1="336.50" x2="220.60" y2="338.50" stroke="#1e1e1e" stroke-width="0.9"/>
<text x="140.40" y="304.50" font-size="7.6" text-anchor="middle" textLength="53.70" lengthAdjust="spacingAndGlyphs" transform="rotate(-90 140.40 304.50)" stroke="#1a1a1a" stroke-width="0.15">Absolute cell number</text>
<text x="179.90" y="348.30" font-size="5.9" text-anchor="middle" stroke="#1a1a1a" stroke-width="0.12">Imm</text>
<text x="200.40" y="348.30" font-size="5.9" text-anchor="middle" stroke="#1a1a1a" stroke-width="0.12">M1</text>
<text x="220.60" y="348.30" font-size="5.9" text-anchor="middle" stroke="#1a1a1a" stroke-width="0.12">M2</text>
<rect x="173.90" y="325.70" width="5.70" height="11.10" fill="#8b9cc8"/>
<line x1="176.75" y1="325.70" x2="176.75" y2="322.60" stroke="#163a72" stroke-width="0.8"/>
<line x1="175.25" y1="322.60" x2="178.25" y2="322.60" stroke="#163a72" stroke-width="0.8"/>
<circle cx="176.60" cy="321.60" r="1.05" fill="#163a72"/>
<circle cx="175.00" cy="326.20" r="1.05" fill="#163a72"/>
<circle cx="177.60" cy="327.40" r="1.05" fill="#163a72"/>
<circle cx="175.40" cy="330.40" r="1.05" fill="#163a72"/>
<circle cx="177.20" cy="332.00" r="1.05" fill="#163a72"/>
<rect x="180.50" y="321.60" width="6.00" height="15.20" fill="#ee8f80"/>
<line x1="183.50" y1="321.60" x2="183.50" y2="320.60" stroke="#b0122e" stroke-width="0.8"/>
<line x1="182.00" y1="320.60" x2="185.00" y2="320.60" stroke="#b0122e" stroke-width="0.8"/>
<circle cx="182.00" cy="321.40" r="1.05" fill="#b0122e"/>
<circle cx="183.60" cy="320.60" r="1.05" fill="#b0122e"/>
<circle cx="185.00" cy="321.60" r="1.05" fill="#b0122e"/>
<circle cx="183.40" cy="322.80" r="1.05" fill="#b0122e"/>
<rect x="194.20" y="317.00" width="5.80" height="19.80" fill="#8b9cc8"/>
<line x1="197.10" y1="317.00" x2="197.10" y2="316.00" stroke="#163a72" stroke-width="0.8"/>
<line x1="195.60" y1="316.00" x2="198.60" y2="316.00" stroke="#163a72" stroke-width="0.8"/>
<circle cx="197.20" cy="316.60" r="1.05" fill="#163a72"/>
<circle cx="195.60" cy="319.80" r="1.05" fill="#163a72"/>
<circle cx="198.60" cy="320.60" r="1.05" fill="#163a72"/>
<circle cx="195.60" cy="324.00" r="1.05" fill="#163a72"/>
<circle cx="198.20" cy="325.80" r="1.05" fill="#163a72"/>
<circle cx="197.00" cy="331.20" r="1.05" fill="#163a72"/>
<rect x="201.10" y="326.60" width="5.70" height="10.20" fill="#ee8f80"/>
<line x1="203.95" y1="326.60" x2="203.95" y2="323.80" stroke="#b0122e" stroke-width="0.8"/>
<line x1="202.45" y1="323.80" x2="205.45" y2="323.80" stroke="#b0122e" stroke-width="0.8"/>
<circle cx="203.60" cy="323.60" r="1.05" fill="#b0122e"/>
<circle cx="202.40" cy="325.60" r="1.05" fill="#b0122e"/>
<circle cx="204.80" cy="326.20" r="1.05" fill="#b0122e"/>
<circle cx="203.80" cy="327.00" r="1.05" fill="#b0122e"/>
<rect x="215.00" y="290.80" width="5.60" height="46.00" fill="#8b9cc8"/>
<line x1="217.80" y1="290.80" x2="217.80" y2="287.40" stroke="#163a72" stroke-width="0.8"/>
<line x1="216.30" y1="287.40" x2="219.30" y2="287.40" stroke="#163a72" stroke-width="0.8"/>
<circle cx="216.60" cy="287.80" r="1.05" fill="#163a72"/>
<circle cx="218.80" cy="289.40" r="1.05" fill="#163a72"/>
<circle cx="217.60" cy="292.40" r="1.05" fill="#163a72"/>
<circle cx="219.60" cy="293.60" r="1.05" fill="#163a72"/>
<rect x="221.90" y="327.60" width="6.10" height="9.20" fill="#ee8f80"/>
<line x1="224.95" y1="327.60" x2="224.95" y2="326.60" stroke="#b0122e" stroke-width="0.8"/>
<line x1="223.45" y1="326.60" x2="226.45" y2="326.60" stroke="#b0122e" stroke-width="0.8"/>
<circle cx="223.40" cy="327.40" r="1.05" fill="#b0122e"/>
<circle cx="225.00" cy="327.00" r="1.05" fill="#b0122e"/>
<circle cx="226.60" cy="327.40" r="1.05" fill="#b0122e"/>
<path d="M176.50 314.50V311.50H183.50V314.50" fill="none" stroke="#1e1e1e" stroke-width="1.0"/>
<text x="180.00" y="311.64" font-size="6.0" text-anchor="middle" fill="#111" stroke="#111" stroke-width="0.1">**</text>
<path d="M196.50 310.50V307.50H203.50V310.50" fill="none" stroke="#1e1e1e" stroke-width="1.0"/>
<text x="200.00" y="307.64" font-size="6.0" text-anchor="middle" fill="#111" stroke="#111" stroke-width="0.1">**</text>
<path d="M217.50 283.50V280.50H224.50V283.50" fill="none" stroke="#1e1e1e" stroke-width="1.0"/>
<text x="221.00" y="280.64" font-size="6.0" text-anchor="middle" fill="#111" stroke="#111" stroke-width="0.1">***</text>
<text x="247.70" y="265.40" font-size="10.9" fill="#000" font-weight="bold" stroke="#000" stroke-width="0.35">F</text>
<line x1="282.50" y1="273.60" x2="282.50" y2="337.40" stroke="#1e1e1e" stroke-width="1.0"/>
<line x1="279.50" y1="336.90" x2="282.50" y2="336.90" stroke="#1e1e1e" stroke-width="0.9"/>
<text x="276.60" y="339.10" font-size="6.3" text-anchor="end" stroke="#1a1a1a" stroke-width="0.12">0</text>
<line x1="279.50" y1="321.50" x2="282.50" y2="321.50" stroke="#1e1e1e" stroke-width="0.9"/>
<text x="276.60" y="323.70" font-size="6.3" text-anchor="end" stroke="#1a1a1a" stroke-width="0.12">20</text>
<line x1="279.50" y1="306.20" x2="282.50" y2="306.20" stroke="#1e1e1e" stroke-width="0.9"/>
<text x="276.60" y="308.40" font-size="6.3" text-anchor="end" stroke="#1a1a1a" stroke-width="0.12">40</text>
<line x1="279.50" y1="291.00" x2="282.50" y2="291.00" stroke="#1e1e1e" stroke-width="0.9"/>
<text x="276.60" y="293.20" font-size="6.3" text-anchor="end" stroke="#1a1a1a" stroke-width="0.12">60</text>
<line x1="279.50" y1="275.40" x2="282.50" y2="275.40" stroke="#1e1e1e" stroke-width="0.9"/>
<text x="276.60" y="277.60" font-size="6.3" text-anchor="end" stroke="#1a1a1a" stroke-width="0.12">80</text>
<line x1="282.00" y1="336.50" x2="344.60" y2="336.50" stroke="#1e1e1e" stroke-width="1.0"/>
<line x1="295.80" y1="336.50" x2="295.80" y2="338.50" stroke="#1e1e1e" stroke-width="0.9"/>
<line x1="330.80" y1="336.50" x2="330.80" y2="338.50" stroke="#1e1e1e" stroke-width="0.9"/>
<text x="263.50" y="307.40" font-size="7.6" text-anchor="middle" textLength="54.00" lengthAdjust="spacingAndGlyphs" transform="rotate(-90 263.50 307.40)" stroke="#1a1a1a" stroke-width="0.15">KLRG1<tspan font-size="4.6" dy="-2.4">+</tspan><tspan dy="2.4"> NK cells, %</tspan></text>
<rect x="287.20" y="329.80" width="7.80" height="7.10" fill="#8b9cc8"/>
<line x1="291.10" y1="329.80" x2="291.10" y2="326.80" stroke="#163a72" stroke-width="0.8"/>
<line x1="289.60" y1="326.80" x2="292.60" y2="326.80" stroke="#163a72" stroke-width="0.8"/>
<circle cx="291.50" cy="326.00" r="1.05" fill="#163a72"/>
<circle cx="288.60" cy="328.60" r="1.05" fill="#163a72"/>
<circle cx="291.00" cy="328.80" r="1.05" fill="#163a72"/>
<circle cx="293.80" cy="328.60" r="1.05" fill="#163a72"/>
<circle cx="289.60" cy="330.60" r="1.05" fill="#163a72"/>
<circle cx="292.60" cy="330.80" r="1.05" fill="#163a72"/>
<circle cx="288.20" cy="332.00" r="1.05" fill="#163a72"/>
<circle cx="290.80" cy="332.40" r="1.05" fill="#163a72"/>
<circle cx="294.00" cy="332.20" r="1.05" fill="#163a72"/>
<circle cx="291.60" cy="333.40" r="1.05" fill="#163a72"/>
<rect x="296.20" y="332.00" width="7.40" height="4.90" fill="#ee8f80"/>
<line x1="299.90" y1="332.00" x2="299.90" y2="327.80" stroke="#b0122e" stroke-width="0.8"/>
<line x1="298.40" y1="327.80" x2="301.40" y2="327.80" stroke="#b0122e" stroke-width="0.8"/>
<circle cx="300.10" cy="322.50" r="1.05" fill="#b0122e"/>
<circle cx="300.10" cy="326.00" r="1.05" fill="#b0122e"/>
<circle cx="297.80" cy="330.60" r="1.05" fill="#b0122e"/>
<circle cx="302.50" cy="331.70" r="1.05" fill="#b0122e"/>
<circle cx="299.20" cy="332.20" r="1.05" fill="#b0122e"/>
<circle cx="301.00" cy="332.80" r="1.05" fill="#b0122e"/>
<circle cx="297.60" cy="333.60" r="1.05" fill="#b0122e"/>
<circle cx="303.00" cy="333.80" r="1.05" fill="#b0122e"/>
<circle cx="300.00" cy="334.20" r="1.05" fill="#b0122e"/>
<rect x="322.60" y="302.30" width="8.10" height="34.60" fill="#8b9cc8"/>
<line x1="326.65" y1="302.30" x2="326.65" y2="297.10" stroke="#163a72" stroke-width="0.8"/>
<line x1="325.15" y1="297.10" x2="328.15" y2="297.10" stroke="#163a72" stroke-width="0.8"/>
<circle cx="326.70" cy="292.50" r="1.05" fill="#163a72"/>
<circle cx="323.60" cy="301.20" r="1.05" fill="#163a72"/>
<circle cx="325.60" cy="301.80" r="1.05" fill="#163a72"/>
<circle cx="327.80" cy="301.40" r="1.05" fill="#163a72"/>
<circle cx="329.80" cy="302.00" r="1.05" fill="#163a72"/>
<circle cx="324.60" cy="303.60" r="1.05" fill="#163a72"/>
<circle cx="328.60" cy="303.80" r="1.05" fill="#163a72"/>
<circle cx="326.60" cy="304.40" r="1.05" fill="#163a72"/>
<circle cx="326.70" cy="308.00" r="1.05" fill="#163a72"/>
<circle cx="326.70" cy="311.30" r="1.05" fill="#163a72"/>
<rect x="331.30" y="328.30" width="8.10" height="8.60" fill="#ee8f80"/>
<line x1="335.35" y1="328.30" x2="335.35" y2="318.60" stroke="#b0122e" stroke-width="0.8"/>
<line x1="333.85" y1="318.60" x2="336.85" y2="318.60" stroke="#b0122e" stroke-width="0.8"/>
<circle cx="335.30" cy="312.70" r="1.05" fill="#b0122e"/>
<circle cx="331.90" cy="315.90" r="1.05" fill="#b0122e"/>
<circle cx="335.30" cy="318.40" r="1.05" fill="#b0122e"/>
<circle cx="335.30" cy="322.50" r="1.05" fill="#b0122e"/>
<circle cx="331.90" cy="325.40" r="1.05" fill="#b0122e"/>
<circle cx="335.30" cy="327.70" r="1.05" fill="#b0122e"/>
<circle cx="332.40" cy="328.80" r="1.05" fill="#b0122e"/>
<circle cx="338.20" cy="328.80" r="1.05" fill="#b0122e"/>
<circle cx="334.80" cy="331.00" r="1.05" fill="#b0122e"/>
<circle cx="335.80" cy="333.20" r="1.05" fill="#b0122e"/>
<path d="M325.50 282.50V279.50H338.50V282.50" fill="none" stroke="#1e1e1e" stroke-width="1.0"/>
<text x="332.00" y="279.64" font-size="6.0" text-anchor="middle" fill="#111" stroke="#111" stroke-width="0.1">***</text>
<text x="295.80" y="348.10" font-size="6.0" text-anchor="middle" stroke="#1a1a1a" stroke-width="0.12">Bone</text>
<text x="295.80" y="355.70" font-size="6.0" text-anchor="middle" stroke="#1a1a1a" stroke-width="0.12">marrow</text>
<text x="330.80" y="348.10" font-size="6.0" text-anchor="middle" stroke="#1a1a1a" stroke-width="0.12">Spleen</text>
<text x="360.40" y="265.40" font-size="10.9" fill="#000" font-weight="bold" stroke="#000" stroke-width="0.35">G</text>
<line x1="396.50" y1="273.60" x2="396.50" y2="337.20" stroke="#1e1e1e" stroke-width="1.0"/>
<line x1="393.50" y1="336.70" x2="396.50" y2="336.70" stroke="#1e1e1e" stroke-width="0.9"/>
<text x="390.60" y="338.90" font-size="6.3" text-anchor="end" stroke="#1a1a1a" stroke-width="0.12">0.0</text>
<line x1="393.50" y1="321.60" x2="396.50" y2="321.60" stroke="#1e1e1e" stroke-width="0.9"/>
<text x="390.60" y="323.81" font-size="6.3" text-anchor="end" stroke="#1a1a1a" stroke-width="0.12">0.5</text>
<line x1="393.50" y1="306.30" x2="396.50" y2="306.30" stroke="#1e1e1e" stroke-width="0.9"/>
<text x="390.60" y="308.50" font-size="6.3" text-anchor="end" stroke="#1a1a1a" stroke-width="0.12">1.0</text>
<line x1="393.50" y1="291.00" x2="396.50" y2="291.00" stroke="#1e1e1e" stroke-width="0.9"/>
<text x="390.60" y="293.20" font-size="6.3" text-anchor="end" stroke="#1a1a1a" stroke-width="0.12">1.5</text>
<line x1="393.50" y1="275.50" x2="396.50" y2="275.50" stroke="#1e1e1e" stroke-width="0.9"/>
<text x="390.60" y="277.70" font-size="6.3" text-anchor="end" stroke="#1a1a1a" stroke-width="0.12">2.0</text>
<line x1="396.00" y1="336.50" x2="457.70" y2="336.50" stroke="#1e1e1e" stroke-width="1.0"/>
<line x1="411.50" y1="336.50" x2="411.50" y2="338.50" stroke="#1e1e1e" stroke-width="0.9"/>
<line x1="442.30" y1="336.50" x2="442.30" y2="338.50" stroke="#1e1e1e" stroke-width="0.9"/>
<text x="375.60" y="306.10" font-size="7.6" text-anchor="middle" textLength="55.20" lengthAdjust="spacingAndGlyphs" transform="rotate(-90 375.60 306.10)" stroke="#1a1a1a" stroke-width="0.15">Maturation score, a.u.</text>
<line x1="407.00" y1="311.20" x2="407.00" y2="311.50" stroke="#3b6aa6" stroke-width="0.7"/>
<line x1="407.00" y1="314.20" x2="407.00" y2="314.60" stroke="#3b6aa6" stroke-width="0.7"/>
<line x1="405.60" y1="311.20" x2="408.40" y2="311.20" stroke="#3b6aa6" stroke-width="0.7"/>
<line x1="405.60" y1="314.60" x2="408.40" y2="314.60" stroke="#3b6aa6" stroke-width="0.7"/>
<rect x="402.60" y="311.50" width="8.80" height="2.70" rx="1.4" fill="#8ea6cf" stroke="#3b6aa6" stroke-width="0.5"/>
<line x1="403.20" y1="312.80" x2="410.80" y2="312.80" stroke="#3b6aa6" stroke-width="0.8"/>
<line x1="417.00" y1="317.60" x2="417.00" y2="319.00" stroke="#c0142f" stroke-width="0.7"/>
<line x1="417.00" y1="320.80" x2="417.00" y2="321.20" stroke="#c0142f" stroke-width="0.7"/>
<line x1="415.60" y1="317.60" x2="418.40" y2="317.60" stroke="#c0142f" stroke-width="0.7"/>
<line x1="415.60" y1="321.20" x2="418.40" y2="321.20" stroke="#c0142f" stroke-width="0.7"/>
<rect x="412.60" y="319.00" width="8.80" height="1.80" rx="1.4" fill="#e27d86" stroke="#c0142f" stroke-width="0.5"/>
<line x1="413.20" y1="319.80" x2="420.80" y2="319.80" stroke="#c0142f" stroke-width="0.8"/>
<line x1="437.20" y1="286.30" x2="437.20" y2="286.80" stroke="#2f5e9e" stroke-width="0.7"/>
<line x1="437.20" y1="291.80" x2="437.20" y2="292.60" stroke="#2f5e9e" stroke-width="0.7"/>
<line x1="435.80" y1="286.30" x2="438.60" y2="286.30" stroke="#2f5e9e" stroke-width="0.7"/>
<line x1="435.80" y1="292.60" x2="438.60" y2="292.60" stroke="#2f5e9e" stroke-width="0.7"/>
<rect x="432.40" y="286.80" width="9.60" height="5.00" rx="1.4" fill="#7f9bcc" stroke="#2f5e9e" stroke-width="0.5"/>
<line x1="433.00" y1="289.20" x2="441.40" y2="289.20" stroke="#2f5e9e" stroke-width="0.8"/>
<line x1="447.65" y1="298.80" x2="447.65" y2="305.00" stroke="#d33a3f" stroke-width="0.7"/>
<line x1="447.65" y1="313.40" x2="447.65" y2="316.40" stroke="#d33a3f" stroke-width="0.7"/>
<line x1="446.25" y1="298.80" x2="449.05" y2="298.80" stroke="#d33a3f" stroke-width="0.7"/>
<line x1="446.25" y1="316.40" x2="449.05" y2="316.40" stroke="#d33a3f" stroke-width="0.7"/>
<rect x="443.00" y="305.00" width="9.30" height="8.40" rx="1.4" fill="#ef9a8a" stroke="#d33a3f" stroke-width="0.5"/>
<line x1="443.60" y1="310.60" x2="451.70" y2="310.60" stroke="#d33a3f" stroke-width="0.8"/>
<path d="M406.50 282.50V279.50H417.50V282.50" fill="none" stroke="#1e1e1e" stroke-width="1.0"/>
<text x="412.00" y="279.64" font-size="6.0" text-anchor="middle" fill="#111" stroke="#111" stroke-width="0.1">****</text>
<path d="M437.50 282.50V279.50H447.50V282.50" fill="none" stroke="#1e1e1e" stroke-width="1.0"/>
<text x="442.50" y="279.64" font-size="6.0" text-anchor="middle" fill="#111" stroke="#111" stroke-width="0.1">****</text>
<text x="411.50" y="348.10" font-size="6.0" text-anchor="middle" stroke="#1a1a1a" stroke-width="0.12">Bone</text>
<text x="411.50" y="355.70" font-size="6.0" text-anchor="middle" stroke="#1a1a1a" stroke-width="0.12">marrow</text>
<text x="442.30" y="348.10" font-size="6.0" text-anchor="middle" stroke="#1a1a1a" stroke-width="0.12">Spleen</text>
<circle cx="469.50" cy="300.20" r="2.25" fill="#1c4a80"/>
<circle cx="469.50" cy="310.00" r="2.25" fill="#b8142e"/>
<text x="474.80" y="302.47" font-size="6.3" stroke="#1a1a1a" stroke-width="0.12">Control</text>
<text x="474.80" y="312.27" font-size="6.3" stroke="#1a1a1a" stroke-width="0.12">CML-exposed</text>
<text x="7.30" y="383.30" font-size="10.9" fill="#000" font-weight="bold" stroke="#000" stroke-width="0.35">H</text>
<line x1="41.50" y1="392.40" x2="41.50" y2="456.30" stroke="#1e1e1e" stroke-width="1.0"/>
<line x1="38.50" y1="455.80" x2="41.50" y2="455.80" stroke="#1e1e1e" stroke-width="0.9"/>
<text x="35.60" y="458.00" font-size="6.3" text-anchor="end" stroke="#1a1a1a" stroke-width="0.12">0</text>
<line x1="38.50" y1="443.70" x2="41.50" y2="443.70" stroke="#1e1e1e" stroke-width="0.9"/>
<text x="35.60" y="445.90" font-size="6.3" text-anchor="end" stroke="#1a1a1a" stroke-width="0.12">20</text>
<line x1="38.50" y1="431.40" x2="41.50" y2="431.40" stroke="#1e1e1e" stroke-width="0.9"/>
<text x="35.60" y="433.60" font-size="6.3" text-anchor="end" stroke="#1a1a1a" stroke-width="0.12">40</text>
<line x1="38.50" y1="419.20" x2="41.50" y2="419.20" stroke="#1e1e1e" stroke-width="0.9"/>
<text x="35.60" y="421.40" font-size="6.3" text-anchor="end" stroke="#1a1a1a" stroke-width="0.12">60</text>
<line x1="38.50" y1="406.90" x2="41.50" y2="406.90" stroke="#1e1e1e" stroke-width="0.9"/>
<text x="35.60" y="409.10" font-size="6.3" text-anchor="end" stroke="#1a1a1a" stroke-width="0.12">80</text>
<line x1="38.50" y1="394.60" x2="41.50" y2="394.60" stroke="#1e1e1e" stroke-width="0.9"/>
<text x="35.60" y="396.81" font-size="6.3" text-anchor="end" stroke="#1a1a1a" stroke-width="0.12">100</text>
<line x1="41.00" y1="455.50" x2="103.00" y2="455.50" stroke="#1e1e1e" stroke-width="1.0"/>
<line x1="51.00" y1="455.50" x2="51.00" y2="457.50" stroke="#1e1e1e" stroke-width="0.9"/>
<line x1="89.40" y1="455.50" x2="89.40" y2="457.50" stroke="#1e1e1e" stroke-width="0.9"/>
<text x="18.30" y="425.40" font-size="7.6" text-anchor="middle" textLength="48.20" lengthAdjust="spacingAndGlyphs" transform="rotate(-90 18.30 425.40)" stroke="#1a1a1a" stroke-width="0.15">Ki-67<tspan font-size="4.6" dy="-2.4">+</tspan><tspan dy="2.4"> NK cells, %</tspan></text>
<rect x="46.20" y="439.00" width="8.00" height="16.80" fill="#8b9cc8"/>
<line x1="50.20" y1="439.00" x2="50.20" y2="432.30" stroke="#163a72" stroke-width="0.8"/>
<line x1="48.70" y1="432.30" x2="51.70" y2="432.30" stroke="#163a72" stroke-width="0.8"/>
<circle cx="50.40" cy="426.50" r="1.05" fill="#163a72"/>
<circle cx="47.10" cy="435.20" r="1.05" fill="#163a72"/>
<circle cx="50.40" cy="436.20" r="1.05" fill="#163a72"/>
<circle cx="47.10" cy="439.00" r="1.05" fill="#163a72"/>
<circle cx="52.90" cy="440.00" r="1.05" fill="#163a72"/>
<circle cx="48.10" cy="442.90" r="1.05" fill="#163a72"/>
<circle cx="51.90" cy="443.80" r="1.05" fill="#163a72"/>
<circle cx="47.10" cy="445.80" r="1.05" fill="#163a72"/>
<circle cx="52.90" cy="445.80" r="1.05" fill="#163a72"/>
<circle cx="49.60" cy="446.70" r="1.05" fill="#163a72"/>
<rect x="55.40" y="417.00" width="7.70" height="38.80" fill="#ee8f80"/>
<line x1="59.25" y1="417.00" x2="59.25" y2="408.80" stroke="#b0122e" stroke-width="0.8"/>
<line x1="57.75" y1="408.80" x2="60.75" y2="408.80" stroke="#b0122e" stroke-width="0.8"/>
<circle cx="58.70" cy="405.40" r="1.05" fill="#b0122e"/>
<circle cx="55.80" cy="410.20" r="1.05" fill="#b0122e"/>
<circle cx="61.90" cy="410.60" r="1.05" fill="#b0122e"/>
<circle cx="54.80" cy="416.50" r="1.05" fill="#b0122e"/>
<circle cx="61.90" cy="416.90" r="1.05" fill="#b0122e"/>
<circle cx="57.70" cy="421.70" r="1.05" fill="#b0122e"/>
<circle cx="61.50" cy="422.70" r="1.05" fill="#b0122e"/>
<circle cx="55.80" cy="426.50" r="1.05" fill="#b0122e"/>
<circle cx="59.60" cy="427.50" r="1.05" fill="#b0122e"/>
<rect x="81.70" y="446.80" width="7.70" height="9.00" fill="#8b9cc8"/>
<line x1="85.55" y1="446.80" x2="85.55" y2="444.40" stroke="#163a72" stroke-width="0.8"/>
<line x1="84.05" y1="444.40" x2="87.05" y2="444.40" stroke="#163a72" stroke-width="0.8"/>
<circle cx="83.20" cy="444.80" r="1.05" fill="#163a72"/>
<circle cx="85.60" cy="445.20" r="1.05" fill="#163a72"/>
<circle cx="88.00" cy="446.00" r="1.05" fill="#163a72"/>
<circle cx="82.80" cy="447.40" r="1.05" fill="#163a72"/>
<circle cx="85.20" cy="447.80" r="1.05" fill="#163a72"/>
<circle cx="87.60" cy="448.60" r="1.05" fill="#163a72"/>
<circle cx="84.00" cy="449.80" r="1.05" fill="#163a72"/>
<circle cx="86.60" cy="450.40" r="1.05" fill="#163a72"/>
<circle cx="88.60" cy="449.60" r="1.05" fill="#163a72"/>
<rect x="90.40" y="427.00" width="7.60" height="28.80" fill="#ee8f80"/>
<line x1="94.20" y1="427.00" x2="94.20" y2="414.00" stroke="#b0122e" stroke-width="0.8"/>
<line x1="92.70" y1="414.00" x2="95.70" y2="414.00" stroke="#b0122e" stroke-width="0.8"/>
<circle cx="94.20" cy="413.00" r="1.05" fill="#b0122e"/>
<circle cx="90.90" cy="416.90" r="1.05" fill="#b0122e"/>
<circle cx="96.20" cy="416.50" r="1.05" fill="#b0122e"/>
<circle cx="92.30" cy="421.70" r="1.05" fill="#b0122e"/>
<circle cx="93.80" cy="431.30" r="1.05" fill="#b0122e"/>
<circle cx="91.90" cy="434.20" r="1.05" fill="#b0122e"/>
<circle cx="93.30" cy="442.90" r="1.05" fill="#b0122e"/>
<circle cx="95.20" cy="440.00" r="1.05" fill="#b0122e"/>
<path d="M49.50 401.50V398.50H59.50V401.50" fill="none" stroke="#1e1e1e" stroke-width="1.0"/>
<text x="54.50" y="398.64" font-size="6.0" text-anchor="middle" fill="#111" stroke="#111" stroke-width="0.1">****</text>
<path d="M85.50 401.50V398.50H94.50V401.50" fill="none" stroke="#1e1e1e" stroke-width="1.0"/>
<text x="90.00" y="398.64" font-size="6.0" text-anchor="middle" fill="#111" stroke="#111" stroke-width="0.1">****</text>
<text x="54.60" y="467.80" font-size="6.0" text-anchor="middle" stroke="#1a1a1a" stroke-width="0.12">Bone</text>
<text x="54.60" y="475.40" font-size="6.0" text-anchor="middle" stroke="#1a1a1a" stroke-width="0.12">marrow</text>
<text x="91.60" y="467.80" font-size="6.0" text-anchor="middle" stroke="#1a1a1a" stroke-width="0.12">Spleen</text>
<text x="119.60" y="382.80" font-size="10.9" fill="#000" font-weight="bold" stroke="#000" stroke-width="0.35">I</text>
<line x1="157.50" y1="392.60" x2="157.50" y2="456.40" stroke="#1e1e1e" stroke-width="1.0"/>
<line x1="154.50" y1="455.90" x2="157.50" y2="455.90" stroke="#1e1e1e" stroke-width="0.9"/>
<text x="151.60" y="458.10" font-size="6.3" text-anchor="end" stroke="#1a1a1a" stroke-width="0.12">0.000</text>
<line x1="154.50" y1="435.80" x2="157.50" y2="435.80" stroke="#1e1e1e" stroke-width="0.9"/>
<text x="151.60" y="438.00" font-size="6.3" text-anchor="end" stroke="#1a1a1a" stroke-width="0.12">0.002</text>
<line x1="154.50" y1="415.40" x2="157.50" y2="415.40" stroke="#1e1e1e" stroke-width="0.9"/>
<text x="151.60" y="417.60" font-size="6.3" text-anchor="end" stroke="#1a1a1a" stroke-width="0.12">0.004</text>
<line x1="154.50" y1="394.80" x2="157.50" y2="394.80" stroke="#1e1e1e" stroke-width="0.9"/>
<text x="151.60" y="397.00" font-size="6.3" text-anchor="end" stroke="#1a1a1a" stroke-width="0.12">0.006</text>
<line x1="218.50" y1="392.60" x2="218.50" y2="456.40" stroke="#1e1e1e" stroke-width="1.0"/>
<line x1="218.50" y1="456.10" x2="221.50" y2="456.10" stroke="#1e1e1e" stroke-width="0.9"/>
<text x="224.40" y="458.31" font-size="6.3" stroke="#1a1a1a" stroke-width="0.12">0</text>
<line x1="218.50" y1="443.70" x2="221.50" y2="443.70" stroke="#1e1e1e" stroke-width="0.9"/>
<text x="224.40" y="445.90" font-size="6.3" stroke="#1a1a1a" stroke-width="0.12">200</text>
<line x1="218.50" y1="431.40" x2="221.50" y2="431.40" stroke="#1e1e1e" stroke-width="0.9"/>
<text x="224.40" y="433.60" font-size="6.3" stroke="#1a1a1a" stroke-width="0.12">400</text>
<line x1="218.50" y1="419.30" x2="221.50" y2="419.30" stroke="#1e1e1e" stroke-width="0.9"/>
<text x="224.40" y="421.50" font-size="6.3" stroke="#1a1a1a" stroke-width="0.12">600</text>
<line x1="218.50" y1="407.20" x2="221.50" y2="407.20" stroke="#1e1e1e" stroke-width="0.9"/>
<text x="224.40" y="409.40" font-size="6.3" stroke="#1a1a1a" stroke-width="0.12">800</text>
<line x1="218.50" y1="394.50" x2="221.50" y2="394.50" stroke="#1e1e1e" stroke-width="0.9"/>
<text x="224.40" y="396.70" font-size="6.3" stroke="#1a1a1a" stroke-width="0.12">1000</text>
<line x1="155.00" y1="456.50" x2="218.80" y2="456.50" stroke="#1e1e1e" stroke-width="1.0"/>
<line x1="170.20" y1="456.50" x2="170.20" y2="458.50" stroke="#1e1e1e" stroke-width="0.9"/>
<line x1="205.80" y1="456.50" x2="205.80" y2="458.50" stroke="#1e1e1e" stroke-width="0.9"/>
<text x="128.50" y="425.30" font-size="7.6" text-anchor="middle" textLength="50.70" lengthAdjust="spacingAndGlyphs" transform="rotate(-90 128.50 425.30)" stroke="#1a1a1a" stroke-width="0.15">CLP frequencies, %</text>
<text x="245.00" y="425.20" font-size="7.6" text-anchor="middle" textLength="53.70" lengthAdjust="spacingAndGlyphs" transform="rotate(90 245.00 425.20)" stroke="#1a1a1a" stroke-width="0.15">Absolute cell number</text>
<rect x="161.90" y="422.30" width="5.60" height="33.90" fill="#8b9cc8"/>
<line x1="164.70" y1="401.60" x2="164.70" y2="440.00" stroke="#163a72" stroke-width="0.9"/>
<line x1="163.30" y1="401.60" x2="166.10" y2="401.60" stroke="#163a72" stroke-width="0.9"/>
<path d="M164.70 400.16L166.07 402.54L163.32 402.54Z" fill="#163a72"/>
<path d="M164.70 420.16L166.07 422.54L163.32 422.54Z" fill="#163a72"/>
<path d="M164.70 438.16L166.07 440.54L163.32 440.54Z" fill="#163a72"/>
<rect x="172.20" y="452.80" width="6.10" height="3.40" fill="#ee8f80"/>
<line x1="175.20" y1="448.80" x2="175.20" y2="456.00" stroke="#b0122e" stroke-width="0.9"/>
<line x1="173.40" y1="448.80" x2="177.00" y2="448.80" stroke="#b0122e" stroke-width="0.8"/>
<circle cx="172.90" cy="450.00" r="1.15" fill="#b0122e"/>
<circle cx="177.60" cy="448.70" r="1.15" fill="#b0122e"/>
<circle cx="174.90" cy="453.50" r="1.15" fill="#b0122e"/>
<rect x="197.80" y="414.80" width="6.00" height="41.40" fill="#8b9cc8"/>
<line x1="200.80" y1="400.60" x2="200.80" y2="425.00" stroke="#163a72" stroke-width="0.9"/>
<line x1="199.40" y1="400.60" x2="202.20" y2="400.60" stroke="#163a72" stroke-width="0.9"/>
<path d="M200.80 399.56L202.18 401.94L199.43 401.94Z" fill="#163a72"/>
<path d="M200.80 418.16L202.18 420.54L199.43 420.54Z" fill="#163a72"/>
<path d="M200.80 423.16L202.18 425.54L199.43 425.54Z" fill="#163a72"/>
<rect x="207.90" y="452.60" width="6.70" height="3.60" fill="#ee8f80"/>
<line x1="211.20" y1="449.60" x2="211.20" y2="456.00" stroke="#b0122e" stroke-width="0.9"/>
<line x1="209.40" y1="449.60" x2="213.00" y2="449.60" stroke="#b0122e" stroke-width="0.8"/>
<circle cx="208.80" cy="451.20" r="1.15" fill="#b0122e"/>
<circle cx="213.40" cy="449.40" r="1.15" fill="#b0122e"/>
<circle cx="210.90" cy="453.60" r="1.15" fill="#b0122e"/>
<path d="M163.50 396.50V393.50H175.50V396.50" fill="none" stroke="#1e1e1e" stroke-width="1.0"/>
<text x="169.50" y="393.64" font-size="6.0" text-anchor="middle" fill="#111" stroke="#111" stroke-width="0.1">***</text>
<path d="M199.50 396.50V393.50H212.50V396.50" fill="none" stroke="#1e1e1e" stroke-width="1.0"/>
<text x="206.00" y="393.64" font-size="6.0" text-anchor="middle" fill="#111" stroke="#111" stroke-width="0.1">**</text>
<text x="169.90" y="468.10" font-size="6.4" text-anchor="middle" stroke="#1a1a1a" stroke-width="0.12">CLP, %</text>
<text x="205.80" y="468.10" font-size="6.4" text-anchor="middle" stroke="#1a1a1a" stroke-width="0.12">CLP, #</text>
<line x1="302.50" y1="392.80" x2="302.50" y2="456.60" stroke="#1e1e1e" stroke-width="1.0"/>
<line x1="299.50" y1="456.10" x2="302.50" y2="456.10" stroke="#1e1e1e" stroke-width="0.9"/>
<text x="296.60" y="458.31" font-size="6.3" text-anchor="end" stroke="#1a1a1a" stroke-width="0.12">0.000</text>
<line x1="299.50" y1="440.80" x2="302.50" y2="440.80" stroke="#1e1e1e" stroke-width="0.9"/>
<text x="296.60" y="443.00" font-size="6.3" text-anchor="end" stroke="#1a1a1a" stroke-width="0.12">0.005</text>
<line x1="299.50" y1="425.50" x2="302.50" y2="425.50" stroke="#1e1e1e" stroke-width="0.9"/>
<text x="296.60" y="427.70" font-size="6.3" text-anchor="end" stroke="#1a1a1a" stroke-width="0.12">0.010</text>
<line x1="299.50" y1="410.40" x2="302.50" y2="410.40" stroke="#1e1e1e" stroke-width="0.9"/>
<text x="296.60" y="412.60" font-size="6.3" text-anchor="end" stroke="#1a1a1a" stroke-width="0.12">0.015</text>
<line x1="299.50" y1="395.10" x2="302.50" y2="395.10" stroke="#1e1e1e" stroke-width="0.9"/>
<text x="296.60" y="397.31" font-size="6.3" text-anchor="end" stroke="#1a1a1a" stroke-width="0.12">0.020</text>
<line x1="364.50" y1="392.80" x2="364.50" y2="456.60" stroke="#1e1e1e" stroke-width="1.0"/>
<line x1="364.50" y1="456.10" x2="367.50" y2="456.10" stroke="#1e1e1e" stroke-width="0.9"/>
<text x="370.40" y="458.31" font-size="6.3" stroke="#1a1a1a" stroke-width="0.12">0</text>
<line x1="364.50" y1="443.90" x2="367.50" y2="443.90" stroke="#1e1e1e" stroke-width="0.9"/>
<text x="370.40" y="446.10" font-size="6.3" stroke="#1a1a1a" stroke-width="0.12">1000</text>
<line x1="364.50" y1="431.50" x2="367.50" y2="431.50" stroke="#1e1e1e" stroke-width="0.9"/>
<text x="370.40" y="433.70" font-size="6.3" stroke="#1a1a1a" stroke-width="0.12">2000</text>
<line x1="364.50" y1="419.30" x2="367.50" y2="419.30" stroke="#1e1e1e" stroke-width="0.9"/>
<text x="370.40" y="421.50" font-size="6.3" stroke="#1a1a1a" stroke-width="0.12">3000</text>
<line x1="364.50" y1="406.90" x2="367.50" y2="406.90" stroke="#1e1e1e" stroke-width="0.9"/>
<text x="370.40" y="409.10" font-size="6.3" stroke="#1a1a1a" stroke-width="0.12">4000</text>
<line x1="364.50" y1="394.60" x2="367.50" y2="394.60" stroke="#1e1e1e" stroke-width="0.9"/>
<text x="370.40" y="396.81" font-size="6.3" stroke="#1a1a1a" stroke-width="0.12">5000</text>
<line x1="302.00" y1="456.50" x2="364.40" y2="456.50" stroke="#1e1e1e" stroke-width="1.0"/>
<line x1="315.30" y1="456.50" x2="315.30" y2="458.50" stroke="#1e1e1e" stroke-width="0.9"/>
<line x1="351.30" y1="456.50" x2="351.30" y2="458.50" stroke="#1e1e1e" stroke-width="0.9"/>
<text x="274.50" y="425.80" font-size="7.6" text-anchor="middle" textLength="52.00" lengthAdjust="spacingAndGlyphs" transform="rotate(-90 274.50 425.80)" stroke="#1a1a1a" stroke-width="0.15">NKP frequencies, %</text>
<text x="390.00" y="425.60" font-size="7.6" text-anchor="middle" textLength="54.20" lengthAdjust="spacingAndGlyphs" transform="rotate(90 390.00 425.60)" stroke="#1a1a1a" stroke-width="0.15">Absolute cell number</text>
<rect x="306.80" y="415.90" width="6.30" height="40.20" fill="#8b9cc8"/>
<line x1="309.95" y1="415.90" x2="309.95" y2="410.40" stroke="#163a72" stroke-width="0.8"/>
<line x1="308.45" y1="410.40" x2="311.45" y2="410.40" stroke="#163a72" stroke-width="0.8"/>
<circle cx="309.95" cy="410.80" r="1.15" fill="#163a72"/>
<circle cx="309.40" cy="417.20" r="1.15" fill="#163a72"/>
<circle cx="310.40" cy="418.40" r="1.15" fill="#163a72"/>
<rect x="317.80" y="435.40" width="6.00" height="20.70" fill="#ee8f80"/>
<line x1="320.80" y1="415.90" x2="320.80" y2="456.00" stroke="#b0122e" stroke-width="0.8"/>
<line x1="319.30" y1="415.90" x2="322.30" y2="415.90" stroke="#b0122e" stroke-width="0.8"/>
<line x1="319.30" y1="455.00" x2="322.30" y2="455.00" stroke="#b0122e" stroke-width="0.8"/>
<circle cx="320.80" cy="413.80" r="1.15" fill="#b0122e"/>
<circle cx="320.80" cy="432.00" r="1.15" fill="#b0122e"/>
<circle cx="320.40" cy="436.00" r="1.15" fill="#b0122e"/>
<circle cx="321.00" cy="449.00" r="1.15" fill="#b0122e"/>
<rect x="343.30" y="419.30" width="5.50" height="36.80" fill="#8b9cc8"/>
<line x1="346.05" y1="403.10" x2="346.05" y2="432.00" stroke="#163a72" stroke-width="0.8"/>
<line x1="344.60" y1="403.10" x2="347.50" y2="403.10" stroke="#163a72" stroke-width="0.8"/>
<line x1="344.60" y1="432.00" x2="347.50" y2="432.00" stroke="#163a72" stroke-width="0.8"/>
<circle cx="346.05" cy="400.60" r="1.15" fill="#163a72"/>
<circle cx="346.05" cy="420.80" r="1.15" fill="#163a72"/>
<circle cx="346.05" cy="424.00" r="1.15" fill="#163a72"/>
<rect x="353.50" y="448.10" width="6.30" height="8.00" fill="#ee8f80"/>
<line x1="356.65" y1="436.60" x2="356.65" y2="456.00" stroke="#b0122e" stroke-width="0.8"/>
<line x1="355.20" y1="436.60" x2="358.10" y2="436.60" stroke="#b0122e" stroke-width="0.8"/>
<circle cx="356.65" cy="431.50" r="1.15" fill="#b0122e"/>
<circle cx="356.00" cy="448.60" r="1.15" fill="#b0122e"/>
<circle cx="357.00" cy="452.00" r="1.15" fill="#b0122e"/>
<path d="M345.50 395.50V392.50H357.50V395.50" fill="none" stroke="#1e1e1e" stroke-width="1.0"/>
<text x="351.50" y="392.64" font-size="6.0" text-anchor="middle" fill="#111" stroke="#111" stroke-width="0.1">*</text>
<text x="315.30" y="468.10" font-size="6.4" text-anchor="middle" stroke="#1a1a1a" stroke-width="0.12">NKP, %</text>
<text x="351.30" y="468.10" font-size="6.4" text-anchor="middle" stroke="#1a1a1a" stroke-width="0.12">NKP, #</text>
<text x="412.00" y="382.70" font-size="10.9" fill="#000" font-weight="bold" stroke="#000" stroke-width="0.35">J</text>
<line x1="449.50" y1="392.40" x2="449.50" y2="456.60" stroke="#1e1e1e" stroke-width="1.0"/>
<line x1="446.50" y1="456.10" x2="449.50" y2="456.10" stroke="#1e1e1e" stroke-width="0.9"/>
<text x="443.60" y="458.31" font-size="6.3" text-anchor="end" stroke="#1a1a1a" stroke-width="0.12">0</text>
<line x1="446.50" y1="443.80" x2="449.50" y2="443.80" stroke="#1e1e1e" stroke-width="0.9"/>
<text x="443.60" y="446.00" font-size="6.3" text-anchor="end" stroke="#1a1a1a" stroke-width="0.12">20</text>
<line x1="446.50" y1="431.60" x2="449.50" y2="431.60" stroke="#1e1e1e" stroke-width="0.9"/>
<text x="443.60" y="433.81" font-size="6.3" text-anchor="end" stroke="#1a1a1a" stroke-width="0.12">40</text>
<line x1="446.50" y1="419.20" x2="449.50" y2="419.20" stroke="#1e1e1e" stroke-width="0.9"/>
<text x="443.60" y="421.40" font-size="6.3" text-anchor="end" stroke="#1a1a1a" stroke-width="0.12">60</text>
<line x1="446.50" y1="407.00" x2="449.50" y2="407.00" stroke="#1e1e1e" stroke-width="0.9"/>
<text x="443.60" y="409.20" font-size="6.3" text-anchor="end" stroke="#1a1a1a" stroke-width="0.12">80</text>
<line x1="446.50" y1="394.80" x2="449.50" y2="394.80" stroke="#1e1e1e" stroke-width="0.9"/>
<text x="443.60" y="397.00" font-size="6.3" text-anchor="end" stroke="#1a1a1a" stroke-width="0.12">100</text>
<line x1="449.00" y1="456.50" x2="511.60" y2="456.50" stroke="#1e1e1e" stroke-width="1.0"/>
<line x1="463.30" y1="456.50" x2="463.30" y2="458.50" stroke="#1e1e1e" stroke-width="0.9"/>
<line x1="497.70" y1="456.50" x2="497.70" y2="458.50" stroke="#1e1e1e" stroke-width="0.9"/>
<text x="426.80" y="424.10" font-size="7.6" text-anchor="middle" textLength="51.40" lengthAdjust="spacingAndGlyphs" transform="rotate(-90 426.80 424.10)" stroke="#1a1a1a" stroke-width="0.15">NKp46<tspan font-size="4.6" dy="-2.4">+</tspan><tspan dy="2.4"> NK cells, %</tspan></text>
<rect x="455.40" y="411.60" width="7.40" height="44.50" fill="#8b9cc8"/>
<line x1="459.10" y1="411.60" x2="459.10" y2="404.60" stroke="#163a72" stroke-width="0.8"/>
<line x1="457.60" y1="404.60" x2="460.60" y2="404.60" stroke="#163a72" stroke-width="0.8"/>
<circle cx="458.00" cy="403.40" r="1.05" fill="#163a72"/>
<circle cx="461.00" cy="403.60" r="1.05" fill="#163a72"/>
<circle cx="456.80" cy="406.80" r="1.05" fill="#163a72"/>
<circle cx="460.00" cy="407.00" r="1.05" fill="#163a72"/>
<circle cx="458.60" cy="409.60" r="1.05" fill="#163a72"/>
<circle cx="461.60" cy="410.40" r="1.05" fill="#163a72"/>
<circle cx="456.60" cy="412.60" r="1.05" fill="#163a72"/>
<circle cx="459.80" cy="413.40" r="1.05" fill="#163a72"/>
<circle cx="457.80" cy="415.20" r="1.05" fill="#163a72"/>
<circle cx="461.20" cy="415.60" r="1.05" fill="#163a72"/>
<circle cx="459.00" cy="411.80" r="1.05" fill="#163a72"/>
<rect x="463.80" y="427.40" width="7.80" height="28.70" fill="#ee8f80"/>
<line x1="467.70" y1="427.40" x2="467.70" y2="415.60" stroke="#b0122e" stroke-width="0.8"/>
<line x1="466.20" y1="415.60" x2="469.20" y2="415.60" stroke="#b0122e" stroke-width="0.8"/>
<circle cx="467.60" cy="414.80" r="1.05" fill="#b0122e"/>
<circle cx="465.60" cy="417.00" r="1.05" fill="#b0122e"/>
<circle cx="469.60" cy="419.20" r="1.05" fill="#b0122e"/>
<circle cx="466.40" cy="420.60" r="1.05" fill="#b0122e"/>
<circle cx="468.80" cy="423.40" r="1.05" fill="#b0122e"/>
<circle cx="465.40" cy="428.40" r="1.05" fill="#b0122e"/>
<circle cx="469.80" cy="428.60" r="1.05" fill="#b0122e"/>
<circle cx="466.60" cy="431.60" r="1.05" fill="#b0122e"/>
<circle cx="468.40" cy="434.40" r="1.05" fill="#b0122e"/>
<circle cx="467.40" cy="437.20" r="1.05" fill="#b0122e"/>
<rect x="489.90" y="405.20" width="7.80" height="50.90" fill="#8b9cc8"/>
<line x1="493.80" y1="405.20" x2="493.80" y2="400.60" stroke="#163a72" stroke-width="0.8"/>
<line x1="492.30" y1="400.60" x2="495.30" y2="400.60" stroke="#163a72" stroke-width="0.8"/>
<circle cx="492.00" cy="399.40" r="1.05" fill="#163a72"/>
<circle cx="494.40" cy="399.80" r="1.05" fill="#163a72"/>
<circle cx="496.40" cy="401.40" r="1.05" fill="#163a72"/>
<circle cx="492.60" cy="402.40" r="1.05" fill="#163a72"/>
<circle cx="495.00" cy="404.20" r="1.05" fill="#163a72"/>
<circle cx="493.00" cy="406.00" r="1.05" fill="#163a72"/>
<circle cx="495.80" cy="407.60" r="1.05" fill="#163a72"/>
<circle cx="493.80" cy="409.00" r="1.05" fill="#163a72"/>
<circle cx="494.60" cy="412.60" r="1.05" fill="#163a72"/>
<rect x="499.20" y="425.50" width="7.40" height="30.60" fill="#ee8f80"/>
<line x1="502.90" y1="425.50" x2="502.90" y2="413.00" stroke="#b0122e" stroke-width="0.8"/>
<line x1="501.40" y1="413.00" x2="504.40" y2="413.00" stroke="#b0122e" stroke-width="0.8"/>
<circle cx="505.00" cy="403.40" r="1.05" fill="#b0122e"/>
<circle cx="500.40" cy="413.60" r="1.05" fill="#b0122e"/>
<circle cx="503.60" cy="415.00" r="1.05" fill="#b0122e"/>
<circle cx="501.00" cy="420.60" r="1.05" fill="#b0122e"/>
<circle cx="504.80" cy="423.00" r="1.05" fill="#b0122e"/>
<circle cx="500.80" cy="425.40" r="1.05" fill="#b0122e"/>
<circle cx="503.20" cy="426.60" r="1.05" fill="#b0122e"/>
<circle cx="505.20" cy="430.00" r="1.05" fill="#b0122e"/>
<circle cx="502.40" cy="436.80" r="1.05" fill="#b0122e"/>
<circle cx="500.40" cy="440.60" r="1.05" fill="#b0122e"/>
<path d="M457.50 396.50V393.50H469.50V396.50" fill="none" stroke="#1e1e1e" stroke-width="1.0"/>
<text x="463.50" y="393.64" font-size="6.0" text-anchor="middle" fill="#111" stroke="#111" stroke-width="0.1">****</text>
<path d="M492.50 396.50V393.50H505.50V396.50" fill="none" stroke="#1e1e1e" stroke-width="1.0"/>
<text x="499.00" y="393.64" font-size="6.0" text-anchor="middle" fill="#111" stroke="#111" stroke-width="0.1">****</text>
<text x="463.30" y="467.90" font-size="6.0" text-anchor="middle" stroke="#1a1a1a" stroke-width="0.12">Bone</text>
<text x="463.30" y="474.90" font-size="6.0" text-anchor="middle" font-style="italic" stroke="#1a1a1a" stroke-width="0.12">marrow</text>
<text x="497.70" y="467.90" font-size="6.0" text-anchor="middle" stroke="#1a1a1a" stroke-width="0.12">Spleen</text>
<text x="7.30" y="502.50" font-size="10.9" fill="#000" font-weight="bold" stroke="#000" stroke-width="0.35">K</text>
<text x="103.50" y="500.40" font-size="8.0" text-anchor="middle" textLength="69.60" lengthAdjust="spacingAndGlyphs" stroke="#1a1a1a" stroke-width="0.12">Inhibitory receptors</text>
<line x1="41.50" y1="510.40" x2="41.50" y2="574.30" stroke="#1e1e1e" stroke-width="1.0"/>
<line x1="38.50" y1="573.80" x2="41.50" y2="573.80" stroke="#1e1e1e" stroke-width="0.9"/>
<text x="35.60" y="576.00" font-size="6.3" text-anchor="end" stroke="#1a1a1a" stroke-width="0.12">0</text>
<line x1="38.50" y1="558.30" x2="41.50" y2="558.30" stroke="#1e1e1e" stroke-width="0.9"/>
<text x="35.60" y="560.50" font-size="6.3" text-anchor="end" stroke="#1a1a1a" stroke-width="0.12">20</text>
<line x1="38.50" y1="542.80" x2="41.50" y2="542.80" stroke="#1e1e1e" stroke-width="0.9"/>
<text x="35.60" y="545.00" font-size="6.3" text-anchor="end" stroke="#1a1a1a" stroke-width="0.12">40</text>
<line x1="38.50" y1="527.60" x2="41.50" y2="527.60" stroke="#1e1e1e" stroke-width="0.9"/>
<text x="35.60" y="529.81" font-size="6.3" text-anchor="end" stroke="#1a1a1a" stroke-width="0.12">60</text>
<line x1="38.50" y1="512.00" x2="41.50" y2="512.00" stroke="#1e1e1e" stroke-width="0.9"/>
<text x="35.60" y="514.21" font-size="6.3" text-anchor="end" stroke="#1a1a1a" stroke-width="0.12">80</text>
<line x1="41.00" y1="573.50" x2="82.20" y2="573.50" stroke="#1e1e1e" stroke-width="1.0"/>
<line x1="61.90" y1="573.50" x2="61.90" y2="575.50" stroke="#1e1e1e" stroke-width="0.9"/>
<text x="22.40" y="541.30" font-size="7.6" text-anchor="middle" textLength="35.00" lengthAdjust="spacingAndGlyphs" transform="rotate(-90 22.40 541.30)" stroke="#1a1a1a" stroke-width="0.15">% in NK cells</text>
<rect x="49.40" y="550.20" width="11.90" height="23.60" fill="#8b9cc8"/>
<line x1="55.35" y1="550.20" x2="55.35" y2="545.60" stroke="#163a72" stroke-width="0.8"/>
<line x1="53.85" y1="545.60" x2="56.85" y2="545.60" stroke="#163a72" stroke-width="0.8"/>
<circle cx="55.40" cy="545.40" r="1.05" fill="#163a72"/>
<circle cx="53.00" cy="546.80" r="1.05" fill="#163a72"/>
<circle cx="57.80" cy="547.20" r="1.05" fill="#163a72"/>
<circle cx="55.00" cy="549.60" r="1.05" fill="#163a72"/>
<circle cx="52.60" cy="550.60" r="1.05" fill="#163a72"/>
<circle cx="57.20" cy="551.20" r="1.05" fill="#163a72"/>
<circle cx="55.60" cy="552.40" r="1.05" fill="#163a72"/>
<rect x="62.60" y="538.80" width="12.10" height="35.00" fill="#ee8f80"/>
<line x1="68.65" y1="538.80" x2="68.65" y2="532.40" stroke="#b0122e" stroke-width="0.8"/>
<line x1="67.15" y1="532.40" x2="70.15" y2="532.40" stroke="#b0122e" stroke-width="0.8"/>
<circle cx="68.80" cy="528.80" r="1.05" fill="#b0122e"/>
<circle cx="66.60" cy="535.00" r="1.05" fill="#b0122e"/>
<circle cx="70.60" cy="535.60" r="1.05" fill="#b0122e"/>
<circle cx="65.60" cy="539.80" r="1.05" fill="#b0122e"/>
<circle cx="68.60" cy="541.00" r="1.05" fill="#b0122e"/>
<circle cx="71.40" cy="540.40" r="1.05" fill="#b0122e"/>
<circle cx="67.20" cy="542.40" r="1.05" fill="#b0122e"/>
<path d="M55.50 524.50V521.50H69.50V524.50" fill="none" stroke="#1e1e1e" stroke-width="1.0"/>
<text x="62.50" y="521.64" font-size="6.0" text-anchor="middle" fill="#111" stroke="#111" stroke-width="0.1">**</text>
<text x="61.90" y="586.00" font-size="6.0" text-anchor="middle" stroke="#1a1a1a" stroke-width="0.12">NKG2A</text>
<line x1="124.50" y1="510.60" x2="124.50" y2="574.00" stroke="#1e1e1e" stroke-width="1.0"/>
<line x1="121.50" y1="573.50" x2="124.50" y2="573.50" stroke="#1e1e1e" stroke-width="0.9"/>
<text x="118.60" y="575.71" font-size="6.3" text-anchor="end" stroke="#1a1a1a" stroke-width="0.12">0</text>
<line x1="121.50" y1="561.30" x2="124.50" y2="561.30" stroke="#1e1e1e" stroke-width="0.9"/>
<text x="118.60" y="563.50" font-size="6.3" text-anchor="end" stroke="#1a1a1a" stroke-width="0.12">5</text>
<line x1="121.50" y1="549.00" x2="124.50" y2="549.00" stroke="#1e1e1e" stroke-width="0.9"/>
<text x="118.60" y="551.21" font-size="6.3" text-anchor="end" stroke="#1a1a1a" stroke-width="0.12">10</text>
<line x1="121.50" y1="536.80" x2="124.50" y2="536.80" stroke="#1e1e1e" stroke-width="0.9"/>
<text x="118.60" y="539.00" font-size="6.3" text-anchor="end" stroke="#1a1a1a" stroke-width="0.12">15</text>
<line x1="121.50" y1="524.60" x2="124.50" y2="524.60" stroke="#1e1e1e" stroke-width="0.9"/>
<text x="118.60" y="526.81" font-size="6.3" text-anchor="end" stroke="#1a1a1a" stroke-width="0.12">20</text>
<line x1="121.50" y1="512.40" x2="124.50" y2="512.40" stroke="#1e1e1e" stroke-width="0.9"/>
<text x="118.60" y="514.61" font-size="6.3" text-anchor="end" stroke="#1a1a1a" stroke-width="0.12">25</text>
<line x1="124.00" y1="573.50" x2="185.20" y2="573.50" stroke="#1e1e1e" stroke-width="1.0"/>
<line x1="139.40" y1="573.50" x2="139.40" y2="575.50" stroke="#1e1e1e" stroke-width="0.9"/>
<line x1="170.40" y1="573.50" x2="170.40" y2="575.50" stroke="#1e1e1e" stroke-width="0.9"/>
<text x="105.20" y="541.70" font-size="7.6" text-anchor="middle" textLength="34.20" lengthAdjust="spacingAndGlyphs" transform="rotate(-90 105.20 541.70)" stroke="#1a1a1a" stroke-width="0.15">% in NK cells</text>
<rect x="128.60" y="570.20" width="9.50" height="3.30" fill="#8b9cc8"/>
<line x1="133.35" y1="570.20" x2="133.35" y2="568.00" stroke="#163a72" stroke-width="0.8"/>
<line x1="131.85" y1="568.00" x2="134.85" y2="568.00" stroke="#163a72" stroke-width="0.8"/>
<circle cx="133.00" cy="567.40" r="1.05" fill="#163a72"/>
<circle cx="131.00" cy="568.80" r="1.05" fill="#163a72"/>
<circle cx="135.20" cy="569.00" r="1.05" fill="#163a72"/>
<circle cx="129.80" cy="570.60" r="1.05" fill="#163a72"/>
<circle cx="133.40" cy="571.00" r="1.05" fill="#163a72"/>
<circle cx="136.60" cy="571.20" r="1.05" fill="#163a72"/>
<circle cx="131.60" cy="572.00" r="1.05" fill="#163a72"/>
<circle cx="134.80" cy="572.40" r="1.05" fill="#163a72"/>
<rect x="140.40" y="546.20" width="8.80" height="27.30" fill="#ee8f80"/>
<line x1="144.80" y1="546.20" x2="144.80" y2="528.50" stroke="#b0122e" stroke-width="0.8"/>
<line x1="143.30" y1="528.50" x2="146.30" y2="528.50" stroke="#b0122e" stroke-width="0.8"/>
<circle cx="144.80" cy="521.60" r="1.05" fill="#b0122e"/>
<circle cx="144.20" cy="524.00" r="1.05" fill="#b0122e"/>
<circle cx="144.80" cy="528.80" r="1.05" fill="#b0122e"/>
<circle cx="144.20" cy="541.60" r="1.05" fill="#b0122e"/>
<circle cx="145.20" cy="546.40" r="1.05" fill="#b0122e"/>
<circle cx="143.60" cy="551.60" r="1.05" fill="#b0122e"/>
<circle cx="145.40" cy="555.60" r="1.05" fill="#b0122e"/>
<circle cx="144.80" cy="560.40" r="1.05" fill="#b0122e"/>
<circle cx="144.00" cy="567.60" r="1.05" fill="#b0122e"/>
<rect x="160.20" y="567.40" width="9.60" height="6.10" fill="#8b9cc8"/>
<line x1="165.00" y1="567.40" x2="165.00" y2="565.40" stroke="#163a72" stroke-width="0.8"/>
<line x1="163.50" y1="565.40" x2="166.50" y2="565.40" stroke="#163a72" stroke-width="0.8"/>
<circle cx="165.00" cy="565.40" r="1.05" fill="#163a72"/>
<circle cx="162.60" cy="566.40" r="1.05" fill="#163a72"/>
<circle cx="167.40" cy="566.60" r="1.05" fill="#163a72"/>
<circle cx="161.80" cy="568.60" r="1.05" fill="#163a72"/>
<circle cx="164.60" cy="568.80" r="1.05" fill="#163a72"/>
<circle cx="167.80" cy="569.20" r="1.05" fill="#163a72"/>
<circle cx="163.40" cy="570.60" r="1.05" fill="#163a72"/>
<circle cx="166.40" cy="570.80" r="1.05" fill="#163a72"/>
<rect x="170.80" y="554.80" width="9.20" height="18.70" fill="#ee8f80"/>
<line x1="175.40" y1="554.80" x2="175.40" y2="547.10" stroke="#b0122e" stroke-width="0.8"/>
<line x1="173.90" y1="547.10" x2="176.90" y2="547.10" stroke="#b0122e" stroke-width="0.8"/>
<circle cx="175.40" cy="544.60" r="1.05" fill="#b0122e"/>
<circle cx="174.40" cy="547.60" r="1.05" fill="#b0122e"/>
<circle cx="176.20" cy="549.40" r="1.05" fill="#b0122e"/>
<circle cx="172.80" cy="552.40" r="1.05" fill="#b0122e"/>
<circle cx="175.80" cy="553.20" r="1.05" fill="#b0122e"/>
<circle cx="178.40" cy="552.60" r="1.05" fill="#b0122e"/>
<circle cx="174.00" cy="555.80" r="1.05" fill="#b0122e"/>
<circle cx="176.80" cy="556.20" r="1.05" fill="#b0122e"/>
<circle cx="175.20" cy="559.40" r="1.05" fill="#b0122e"/>
<path d="M134.50 516.50V513.50H144.50V516.50" fill="none" stroke="#1e1e1e" stroke-width="1.0"/>
<text x="139.50" y="513.64" font-size="6.0" text-anchor="middle" fill="#111" stroke="#111" stroke-width="0.1">**</text>
<path d="M164.50 516.50V513.50H175.50V516.50" fill="none" stroke="#1e1e1e" stroke-width="1.0"/>
<text x="170.00" y="513.64" font-size="6.0" text-anchor="middle" fill="#111" stroke="#111" stroke-width="0.1">****</text>
<text x="139.40" y="586.00" font-size="6.0" text-anchor="middle" stroke="#1a1a1a" stroke-width="0.12">Lag-3</text>
<text x="170.40" y="586.00" font-size="6.0" text-anchor="middle" stroke="#1a1a1a" stroke-width="0.12">TIGIT</text>
<circle cx="192.20" cy="536.30" r="1.85" fill="#1c4a80"/>
<circle cx="192.20" cy="547.10" r="1.85" fill="#b8142e"/>
<text x="197.80" y="538.57" font-size="6.3" stroke="#1a1a1a" stroke-width="0.12">Control</text>
<text x="197.80" y="549.37" font-size="6.3" stroke="#1a1a1a" stroke-width="0.12">CML-exposed</text>
<text x="251.80" y="502.20" font-size="10.9" fill="#000" font-weight="bold" stroke="#000" stroke-width="0.35">L</text>
<line x1="286.50" y1="510.40" x2="286.50" y2="574.30" stroke="#1e1e1e" stroke-width="1.0"/>
<line x1="283.50" y1="573.80" x2="286.50" y2="573.80" stroke="#1e1e1e" stroke-width="0.9"/>
<text x="280.60" y="576.00" font-size="6.3" text-anchor="end" stroke="#1a1a1a" stroke-width="0.12">0</text>
<line x1="283.50" y1="561.40" x2="286.50" y2="561.40" stroke="#1e1e1e" stroke-width="0.9"/>
<text x="280.60" y="563.61" font-size="6.3" text-anchor="end" stroke="#1a1a1a" stroke-width="0.12">5</text>
<line x1="283.50" y1="549.20" x2="286.50" y2="549.20" stroke="#1e1e1e" stroke-width="0.9"/>
<text x="280.60" y="551.41" font-size="6.3" text-anchor="end" stroke="#1a1a1a" stroke-width="0.12">10</text>
<line x1="283.50" y1="536.90" x2="286.50" y2="536.90" stroke="#1e1e1e" stroke-width="0.9"/>
<text x="280.60" y="539.11" font-size="6.3" text-anchor="end" stroke="#1a1a1a" stroke-width="0.12">15</text>
<line x1="283.50" y1="524.50" x2="286.50" y2="524.50" stroke="#1e1e1e" stroke-width="0.9"/>
<text x="280.60" y="526.71" font-size="6.3" text-anchor="end" stroke="#1a1a1a" stroke-width="0.12">20</text>
<line x1="283.50" y1="512.30" x2="286.50" y2="512.30" stroke="#1e1e1e" stroke-width="0.9"/>
<text x="280.60" y="514.50" font-size="6.3" text-anchor="end" stroke="#1a1a1a" stroke-width="0.12">25</text>
<line x1="286.00" y1="573.50" x2="327.60" y2="573.50" stroke="#1e1e1e" stroke-width="1.0"/>
<line x1="296.00" y1="573.50" x2="296.00" y2="575.50" stroke="#1e1e1e" stroke-width="0.9"/>
<line x1="316.90" y1="573.50" x2="316.90" y2="575.50" stroke="#1e1e1e" stroke-width="0.9"/>
<text x="267.40" y="543.20" font-size="8.4" text-anchor="middle" textLength="31.40" lengthAdjust="spacingAndGlyphs" transform="rotate(-90 267.40 543.20)" stroke="#1a1a1a" stroke-width="0.15">CD107a<tspan font-size="5.0" dy="-2.6">+</tspan><tspan dy="2.6">, %</tspan></text>
<rect x="291.10" y="545.30" width="9.70" height="28.50" fill="#8b9cc8"/>
<line x1="295.95" y1="545.30" x2="295.95" y2="536.20" stroke="#163a72" stroke-width="0.8"/>
<line x1="294.45" y1="536.20" x2="297.45" y2="536.20" stroke="#163a72" stroke-width="0.8"/>
<circle cx="296.00" cy="530.20" r="1.05" fill="#163a72"/>
<circle cx="296.00" cy="540.40" r="1.05" fill="#163a72"/>
<circle cx="296.00" cy="543.60" r="1.05" fill="#163a72"/>
<circle cx="296.00" cy="547.00" r="1.05" fill="#163a72"/>
<circle cx="296.00" cy="554.60" r="1.05" fill="#163a72"/>
<rect x="311.70" y="564.70" width="10.10" height="9.10" fill="#ee8f80"/>
<line x1="316.75" y1="564.70" x2="316.75" y2="561.00" stroke="#b0122e" stroke-width="0.8"/>
<line x1="315.25" y1="561.00" x2="318.25" y2="561.00" stroke="#b0122e" stroke-width="0.8"/>
<circle cx="312.80" cy="559.60" r="1.05" fill="#b0122e"/>
<circle cx="315.60" cy="560.80" r="1.05" fill="#b0122e"/>
<circle cx="318.60" cy="561.60" r="1.05" fill="#b0122e"/>
<circle cx="312.60" cy="563.80" r="1.05" fill="#b0122e"/>
<circle cx="316.40" cy="564.40" r="1.05" fill="#b0122e"/>
<circle cx="319.80" cy="565.80" r="1.05" fill="#b0122e"/>
<circle cx="314.20" cy="566.20" r="1.05" fill="#b0122e"/>
<path d="M296.50 527.10V523.50H316.50V527.10" fill="none" stroke="#1e1e1e" stroke-width="1.0"/>
<text x="306.50" y="523.64" font-size="6.0" text-anchor="middle" fill="#111" stroke="#111" stroke-width="0.1">***</text>
<text x="297.40" y="582.60" font-size="6.3" text-anchor="end" transform="rotate(-45 297.40 582.60)" stroke="#1a1a1a" stroke-width="0.12">Control</text>
<text x="318.40" y="582.60" font-size="6.3" text-anchor="end" transform="rotate(-45 318.40 582.60)" stroke="#1a1a1a" stroke-width="0.12">CML-exposed</text>
<line x1="372.50" y1="510.60" x2="372.50" y2="574.10" stroke="#1e1e1e" stroke-width="1.0"/>
<line x1="369.50" y1="573.60" x2="372.50" y2="573.60" stroke="#1e1e1e" stroke-width="0.9"/>
<text x="366.60" y="575.81" font-size="6.3" text-anchor="end" stroke="#1a1a1a" stroke-width="0.12">0</text>
<line x1="369.50" y1="561.50" x2="372.50" y2="561.50" stroke="#1e1e1e" stroke-width="0.9"/>
<text x="366.60" y="563.71" font-size="6.3" text-anchor="end" stroke="#1a1a1a" stroke-width="0.12">20</text>
<line x1="369.50" y1="549.30" x2="372.50" y2="549.30" stroke="#1e1e1e" stroke-width="0.9"/>
<text x="366.60" y="551.50" font-size="6.3" text-anchor="end" stroke="#1a1a1a" stroke-width="0.12">40</text>
<line x1="369.50" y1="537.20" x2="372.50" y2="537.20" stroke="#1e1e1e" stroke-width="0.9"/>
<text x="366.60" y="539.41" font-size="6.3" text-anchor="end" stroke="#1a1a1a" stroke-width="0.12">60</text>
<line x1="369.50" y1="524.70" x2="372.50" y2="524.70" stroke="#1e1e1e" stroke-width="0.9"/>
<text x="366.60" y="526.91" font-size="6.3" text-anchor="end" stroke="#1a1a1a" stroke-width="0.12">80</text>
<line x1="369.50" y1="512.20" x2="372.50" y2="512.20" stroke="#1e1e1e" stroke-width="0.9"/>
<text x="366.60" y="514.41" font-size="6.3" text-anchor="end" stroke="#1a1a1a" stroke-width="0.12">100</text>
<line x1="372.00" y1="573.50" x2="433.40" y2="573.50" stroke="#1e1e1e" stroke-width="1.0"/>
<line x1="386.80" y1="573.50" x2="386.80" y2="575.50" stroke="#1e1e1e" stroke-width="0.9"/>
<line x1="418.80" y1="573.50" x2="418.80" y2="575.50" stroke="#1e1e1e" stroke-width="0.9"/>
<text x="349.60" y="541.50" font-size="7.6" text-anchor="middle" textLength="34.60" lengthAdjust="spacingAndGlyphs" transform="rotate(-90 349.60 541.50)" stroke="#1a1a1a" stroke-width="0.15">% in NK cells</text>
<rect x="377.70" y="530.00" width="8.20" height="43.60" fill="#8b9cc8"/>
<line x1="381.80" y1="530.00" x2="381.80" y2="524.70" stroke="#163a72" stroke-width="0.8"/>
<line x1="380.30" y1="524.70" x2="383.30" y2="524.70" stroke="#163a72" stroke-width="0.8"/>
<circle cx="381.80" cy="524.80" r="1.05" fill="#163a72"/>
<circle cx="380.20" cy="527.80" r="1.05" fill="#163a72"/>
<circle cx="383.20" cy="530.00" r="1.05" fill="#163a72"/>
<circle cx="381.00" cy="533.00" r="1.05" fill="#163a72"/>
<circle cx="382.60" cy="536.60" r="1.05" fill="#163a72"/>
<rect x="388.90" y="555.80" width="8.90" height="17.80" fill="#ee8f80"/>
<line x1="393.35" y1="555.80" x2="393.35" y2="547.30" stroke="#b0122e" stroke-width="0.8"/>
<line x1="391.85" y1="547.30" x2="394.85" y2="547.30" stroke="#b0122e" stroke-width="0.8"/>
<path d="M393.40 545.79L394.55 547.79L392.25 547.79Z" fill="#b0122e"/>
<path d="M393.40 553.79L394.55 555.79L392.25 555.79Z" fill="#b0122e"/>
<path d="M393.00 556.39L394.15 558.39L391.85 558.39Z" fill="#b0122e"/>
<path d="M393.60 558.79L394.75 560.79L392.45 560.79Z" fill="#b0122e"/>
<rect x="408.50" y="539.80" width="8.90" height="33.80" fill="#8b9cc8"/>
<line x1="412.95" y1="539.80" x2="412.95" y2="539.00" stroke="#163a72" stroke-width="0.8"/>
<line x1="411.45" y1="539.00" x2="414.45" y2="539.00" stroke="#163a72" stroke-width="0.8"/>
<circle cx="411.00" cy="539.60" r="1.05" fill="#163a72"/>
<circle cx="413.00" cy="539.20" r="1.05" fill="#163a72"/>
<circle cx="415.00" cy="539.60" r="1.05" fill="#163a72"/>
<rect x="420.00" y="563.80" width="9.00" height="9.80" fill="#ee8f80"/>
<line x1="424.50" y1="563.80" x2="424.50" y2="556.70" stroke="#b0122e" stroke-width="0.8"/>
<line x1="423.00" y1="556.70" x2="426.00" y2="556.70" stroke="#b0122e" stroke-width="0.8"/>
<path d="M424.50 555.49L425.65 557.49L423.35 557.49Z" fill="#b0122e"/>
<path d="M424.50 562.19L425.65 564.19L423.35 564.19Z" fill="#b0122e"/>
<path d="M424.50 565.39L425.65 567.39L423.35 567.39Z" fill="#b0122e"/>
<path d="M382.50 509.50V506.50H393.50V509.50" fill="none" stroke="#1e1e1e" stroke-width="1.0"/>
<text x="388.00" y="506.64" font-size="6.0" text-anchor="middle" fill="#111" stroke="#111" stroke-width="0.1">***</text>
<path d="M413.50 521.50V518.50H424.50V521.50" fill="none" stroke="#1e1e1e" stroke-width="1.0"/>
<text x="419.00" y="518.64" font-size="6.0" text-anchor="middle" fill="#111" stroke="#111" stroke-width="0.1">**</text>
<text x="387.20" y="586.20" font-size="6.4" text-anchor="middle" stroke="#1a1a1a" stroke-width="0.12">IFNg</text>
<text x="418.60" y="586.20" font-size="6.4" text-anchor="middle" stroke="#1a1a1a" stroke-width="0.12">GzmB</text>
<rect x="437.20" y="533.50" width="5.60" height="5.60" fill="#1c4f8a"/>
<rect x="437.20" y="543.40" width="5.60" height="5.60" fill="#c8142f"/>
<text x="446.80" y="538.57" font-size="6.3" stroke="#1a1a1a" stroke-width="0.12">Control</text>
<text x="446.80" y="548.47" font-size="6.3" stroke="#1a1a1a" stroke-width="0.12">CML-exposed</text>
<rect x="0.5" y="0.5" width="519" height="617" fill="none" stroke="#4a4a4a" stroke-width="1.2"/>
</svg></body></html>
